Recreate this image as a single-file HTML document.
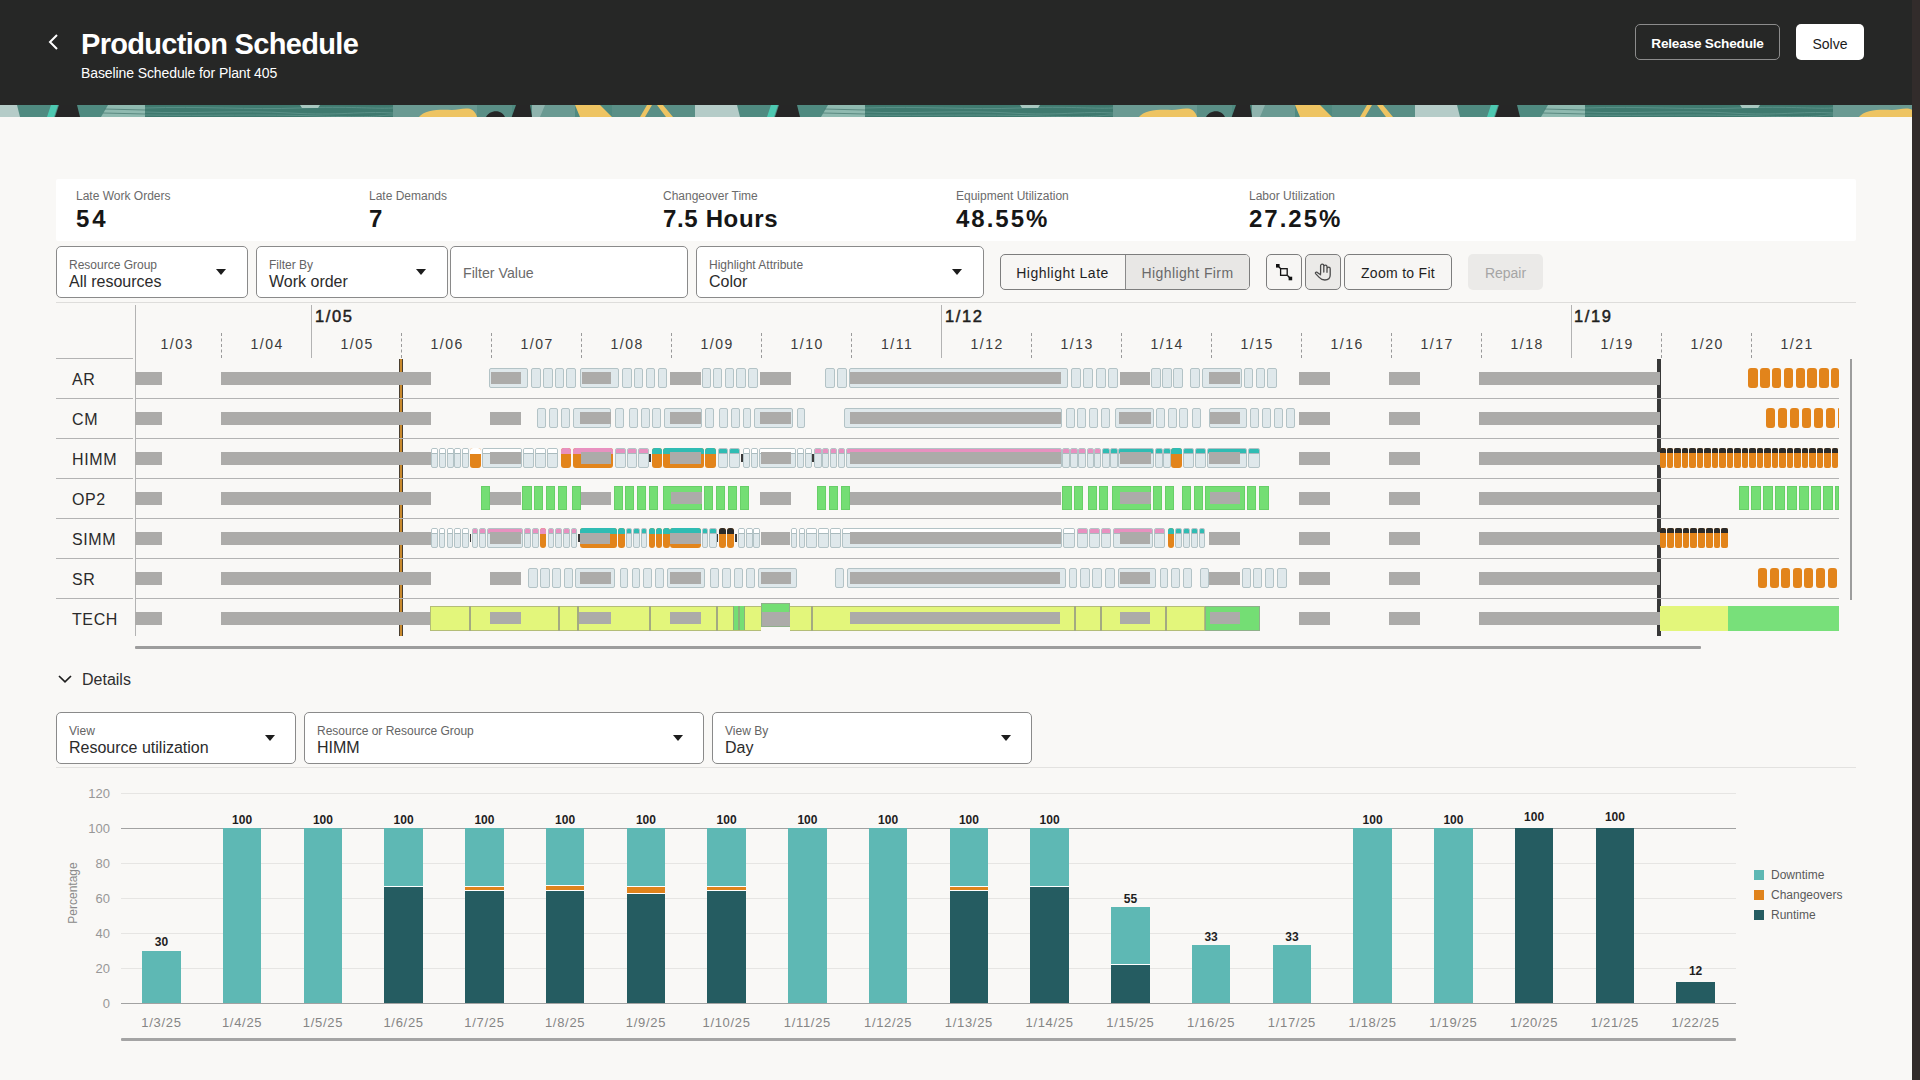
<!DOCTYPE html><html><head><meta charset="utf-8"><title>Production Schedule</title><style>
*{box-sizing:border-box;margin:0;padding:0}
html,body{width:1920px;height:1080px;overflow:hidden;background:#f9f8f6;font-family:"Liberation Sans", sans-serif;}
.a{position:absolute}
.dd{position:absolute;background:#fff;border:1px solid #8a8a8a;border-radius:5px}
.dd .l{position:absolute;left:12px;top:11.5px;font-size:12px;color:#646464;line-height:1;white-space:nowrap}
.dd .v{position:absolute;left:12px;top:26.5px;font-size:16px;color:#2b2b2b;line-height:1;white-space:nowrap}
.dd .ar{position:absolute;top:21.75px;width:0;height:0;border-left:5.5px solid transparent;border-right:5.5px solid transparent;border-top:6px solid #1c1c1c}
.btn{position:absolute;border:1px solid #7d7d7d;border-radius:5px;font-size:14px;color:#1f1f1f;text-align:center;white-space:nowrap}
.kl{position:absolute;font-size:12px;color:#6b6b6b;line-height:1;white-space:nowrap}
.kv{position:absolute;font-size:24px;font-weight:bold;color:#161616;line-height:1;white-space:nowrap}
.rl{position:absolute;left:72px;font-size:16px;color:#2a2a2a;line-height:1}
.dl{position:absolute;font-size:14px;color:#3a3a3a;line-height:1;width:90px;text-align:center}
.wl{position:absolute;font-size:16.5px;font-weight:normal;color:#1e1e1e;line-height:1;-webkit-text-stroke:0.5px #1e1e1e}
</style></head><body>
<div style="position:absolute;left:0.0px;top:0.0px;width:1920.0px;height:105.0px;background:#262726"></div>
<div style="position:absolute;left:1912.0px;top:0.0px;width:8.0px;height:1080.0px;background:#322c2b"></div>
<svg class="a" style="left:0;top:105px" width="1912" height="12" viewBox="0 0 1912 12"><g transform="translate(-720,0)"><rect x="0" y="0" width="720" height="12" fill="#4f8a80"/><path d="M-25 0 L17 0 L20 12 L-25 12 Z" fill="#b5ccc8"/><path d="M695 0 L737 0 L740 12 L695 12 Z" fill="#b5ccc8"/><path d="M51 0 L58 0 L54 12 L47 12 Z" fill="#4dc9b1"/><path d="M59 0 L77 0 L80 12 L55 12 Z" fill="#262626"/><path d="M108 0 L145 0 L145 12 L101 12 Z" fill="#8fbab0"/><path d="M104 4 L145 5 M103 8 L145 9" stroke="#4c7e75" stroke-width="0.8"/><rect x="145" y="0" width="248" height="12" fill="#3f7a6f"/><path d="M145 3 C200 1 250 5 300 3 S 370 4 393 3 M145 7 C190 9 240 5 290 8 S 360 6 393 8 M145 10 C210 11 260 9 320 11 S 380 10 393 10" stroke="#5e938a" stroke-width="0.9" fill="none"/><path d="M300 0 L320 0 L318 3 L302 3 Z" fill="#a8c8c0"/><rect x="393" y="0" width="84" height="12" fill="#6a9a92"/><path d="M419 12 C424 5 440 4 452 5 C458 5 462 3 468 3.5 C473 4 476 8 477 12 Z" fill="#eec462"/><rect x="477" y="0" width="35" height="12" fill="#5a8f86"/><path d="M486 12 C489 6 500 3 505 12 Z" fill="#262626"/><path d="M516 0 L530 0 L532 12 L511.7 12 Z" fill="#262626"/><rect x="532" y="0" width="43" height="12" fill="#6a9a92"/><path d="M532 0 L545 0 L540 12 L532 12 Z" fill="#8fb3ad"/><path d="M575 0 L600 0 L612 12 L580 12 Z" fill="#eec462"/><rect x="612" y="0" width="83" height="12" fill="#5a8f86"/><path d="M640 12 L647 0 L652 0 L645 12 Z M657 0 L663 0 L673 12 L666 12 Z" fill="#eec462"/></g><g transform="translate(0,0)"><rect x="0" y="0" width="720" height="12" fill="#4f8a80"/><path d="M-25 0 L17 0 L20 12 L-25 12 Z" fill="#b5ccc8"/><path d="M695 0 L737 0 L740 12 L695 12 Z" fill="#b5ccc8"/><path d="M51 0 L58 0 L54 12 L47 12 Z" fill="#4dc9b1"/><path d="M59 0 L77 0 L80 12 L55 12 Z" fill="#262626"/><path d="M108 0 L145 0 L145 12 L101 12 Z" fill="#8fbab0"/><path d="M104 4 L145 5 M103 8 L145 9" stroke="#4c7e75" stroke-width="0.8"/><rect x="145" y="0" width="248" height="12" fill="#3f7a6f"/><path d="M145 3 C200 1 250 5 300 3 S 370 4 393 3 M145 7 C190 9 240 5 290 8 S 360 6 393 8 M145 10 C210 11 260 9 320 11 S 380 10 393 10" stroke="#5e938a" stroke-width="0.9" fill="none"/><path d="M300 0 L320 0 L318 3 L302 3 Z" fill="#a8c8c0"/><rect x="393" y="0" width="84" height="12" fill="#6a9a92"/><path d="M419 12 C424 5 440 4 452 5 C458 5 462 3 468 3.5 C473 4 476 8 477 12 Z" fill="#eec462"/><rect x="477" y="0" width="35" height="12" fill="#5a8f86"/><path d="M486 12 C489 6 500 3 505 12 Z" fill="#262626"/><path d="M516 0 L530 0 L532 12 L511.7 12 Z" fill="#262626"/><rect x="532" y="0" width="43" height="12" fill="#6a9a92"/><path d="M532 0 L545 0 L540 12 L532 12 Z" fill="#8fb3ad"/><path d="M575 0 L600 0 L612 12 L580 12 Z" fill="#eec462"/><rect x="612" y="0" width="83" height="12" fill="#5a8f86"/><path d="M640 12 L647 0 L652 0 L645 12 Z M657 0 L663 0 L673 12 L666 12 Z" fill="#eec462"/></g><g transform="translate(720,0)"><rect x="0" y="0" width="720" height="12" fill="#4f8a80"/><path d="M-25 0 L17 0 L20 12 L-25 12 Z" fill="#b5ccc8"/><path d="M695 0 L737 0 L740 12 L695 12 Z" fill="#b5ccc8"/><path d="M51 0 L58 0 L54 12 L47 12 Z" fill="#4dc9b1"/><path d="M59 0 L77 0 L80 12 L55 12 Z" fill="#262626"/><path d="M108 0 L145 0 L145 12 L101 12 Z" fill="#8fbab0"/><path d="M104 4 L145 5 M103 8 L145 9" stroke="#4c7e75" stroke-width="0.8"/><rect x="145" y="0" width="248" height="12" fill="#3f7a6f"/><path d="M145 3 C200 1 250 5 300 3 S 370 4 393 3 M145 7 C190 9 240 5 290 8 S 360 6 393 8 M145 10 C210 11 260 9 320 11 S 380 10 393 10" stroke="#5e938a" stroke-width="0.9" fill="none"/><path d="M300 0 L320 0 L318 3 L302 3 Z" fill="#a8c8c0"/><rect x="393" y="0" width="84" height="12" fill="#6a9a92"/><path d="M419 12 C424 5 440 4 452 5 C458 5 462 3 468 3.5 C473 4 476 8 477 12 Z" fill="#eec462"/><rect x="477" y="0" width="35" height="12" fill="#5a8f86"/><path d="M486 12 C489 6 500 3 505 12 Z" fill="#262626"/><path d="M516 0 L530 0 L532 12 L511.7 12 Z" fill="#262626"/><rect x="532" y="0" width="43" height="12" fill="#6a9a92"/><path d="M532 0 L545 0 L540 12 L532 12 Z" fill="#8fb3ad"/><path d="M575 0 L600 0 L612 12 L580 12 Z" fill="#eec462"/><rect x="612" y="0" width="83" height="12" fill="#5a8f86"/><path d="M640 12 L647 0 L652 0 L645 12 Z M657 0 L663 0 L673 12 L666 12 Z" fill="#eec462"/></g><g transform="translate(1440,0)"><rect x="0" y="0" width="720" height="12" fill="#4f8a80"/><path d="M-25 0 L17 0 L20 12 L-25 12 Z" fill="#b5ccc8"/><path d="M695 0 L737 0 L740 12 L695 12 Z" fill="#b5ccc8"/><path d="M51 0 L58 0 L54 12 L47 12 Z" fill="#4dc9b1"/><path d="M59 0 L77 0 L80 12 L55 12 Z" fill="#262626"/><path d="M108 0 L145 0 L145 12 L101 12 Z" fill="#8fbab0"/><path d="M104 4 L145 5 M103 8 L145 9" stroke="#4c7e75" stroke-width="0.8"/><rect x="145" y="0" width="248" height="12" fill="#3f7a6f"/><path d="M145 3 C200 1 250 5 300 3 S 370 4 393 3 M145 7 C190 9 240 5 290 8 S 360 6 393 8 M145 10 C210 11 260 9 320 11 S 380 10 393 10" stroke="#5e938a" stroke-width="0.9" fill="none"/><path d="M300 0 L320 0 L318 3 L302 3 Z" fill="#a8c8c0"/><rect x="393" y="0" width="84" height="12" fill="#6a9a92"/><path d="M419 12 C424 5 440 4 452 5 C458 5 462 3 468 3.5 C473 4 476 8 477 12 Z" fill="#eec462"/><rect x="477" y="0" width="35" height="12" fill="#5a8f86"/><path d="M486 12 C489 6 500 3 505 12 Z" fill="#262626"/><path d="M516 0 L530 0 L532 12 L511.7 12 Z" fill="#262626"/><rect x="532" y="0" width="43" height="12" fill="#6a9a92"/><path d="M532 0 L545 0 L540 12 L532 12 Z" fill="#8fb3ad"/><path d="M575 0 L600 0 L612 12 L580 12 Z" fill="#eec462"/><rect x="612" y="0" width="83" height="12" fill="#5a8f86"/><path d="M640 12 L647 0 L652 0 L645 12 Z M657 0 L663 0 L673 12 L666 12 Z" fill="#eec462"/></g></svg>
<svg class="a" style="left:44px;top:32px" width="20" height="20" viewBox="0 0 20 20"><path d="M13 3 L6 10 L13 17" stroke="#fff" stroke-width="2" fill="none"/></svg>
<div style="position:absolute;left:81px;top:30px;font-size:29px;color:#ffffff;font-weight:bold;white-space:nowrap;line-height:1;letter-spacing:-0.68px">Production Schedule</div>
<div style="position:absolute;left:81px;top:66px;font-size:14px;color:#ffffff;font-weight:normal;white-space:nowrap;line-height:1;letter-spacing:-0.1px">Baseline Schedule for Plant 405</div>
<div class="a" style="left:1635px;top:24px;width:145px;height:36px;border:1px solid #8c8c8c;border-radius:5px;color:#fff;font-size:13.6px;font-weight:bold;line-height:38px;text-align:center;letter-spacing:-0.2px">Release Schedule</div>
<div class="a" style="left:1796px;top:24px;width:68px;height:36px;background:#fff;border-radius:5px;color:#1a1a1a;font-size:14px;line-height:40px;text-align:center">Solve</div>
<div style="position:absolute;left:56.0px;top:179.0px;width:1800.0px;height:62.0px;background:#ffffff;border-radius:2px"></div>
<div class="kl" style="left:76px;top:190px">Late Work Orders</div>
<div class="kv" style="left:76px;top:207px;letter-spacing:3px">54</div>
<div class="kl" style="left:369px;top:190px">Late Demands</div>
<div class="kv" style="left:369px;top:207px;letter-spacing:0px">7</div>
<div class="kl" style="left:663px;top:190px">Changeover Time</div>
<div class="kv" style="left:663px;top:207px;letter-spacing:0.65px">7.5 Hours</div>
<div class="kl" style="left:956px;top:190px">Equipment Utilization</div>
<div class="kv" style="left:956px;top:207px;letter-spacing:2.0px">48.55%</div>
<div class="kl" style="left:1249px;top:190px">Labor Utilization</div>
<div class="kv" style="left:1249px;top:207px;letter-spacing:2.0px">27.25%</div>
<div class="dd" style="left:56px;top:246px;width:192px;height:52px"><div class="l">Resource Group</div><div class="v">All resources</div><div class="ar" style="left:159.4px"></div></div>
<div class="dd" style="left:256px;top:246px;width:192px;height:52px"><div class="l">Filter By</div><div class="v">Work order</div><div class="ar" style="left:159.4px"></div></div>
<div class="dd" style="left:450px;top:246px;width:238px;height:52px"><div class="a" style="left:12px;top:18.5px;font-size:14.2px;color:#6b6b6b;line-height:1">Filter Value</div></div>
<div class="dd" style="left:696px;top:246px;width:288px;height:52px"><div class="l">Highlight Attribute</div><div class="v">Color</div><div class="ar" style="left:255.4px"></div></div>
<div class="btn" style="left:1000px;top:254px;width:250px;height:36px;background:#f7f6f4"></div>
<div class="a" style="left:1125px;top:255px;width:124px;height:34px;background:#e8e7e5;border-left:1px solid #8a8a8a;border-radius:0 4px 4px 0"></div>
<div class="a" style="left:1000px;top:266px;width:125px;text-align:center;font-size:14px;color:#1f1f1f;line-height:1;letter-spacing:0.5px">Highlight Late</div>
<div class="a" style="left:1125px;top:266px;width:125px;text-align:center;font-size:14px;color:#6a6a6a;line-height:1;letter-spacing:0.4px">Highlight Firm</div>
<div class="btn" style="left:1266px;top:254px;width:36px;height:36px;background:#f7f6f4"></div>
<svg class="a" style="left:1266px;top:254px" width="36" height="36" viewBox="0 0 36 36"><rect x="10" y="10" width="3.6" height="3.6" fill="#111"/><rect x="14.6" y="14.7" width="6.6" height="6.6" fill="none" stroke="#111" stroke-width="1.3"/><rect x="22.6" y="22.7" width="3.6" height="3.6" fill="#111"/><path d="M13 13 L15 15 M21.5 21.5 L23.5 23.5" stroke="#111" stroke-width="1.3"/></svg>
<div class="btn" style="left:1305px;top:254px;width:36px;height:36px;background:#ebeae8"></div>
<svg class="a" style="left:1305px;top:254px" width="36" height="36" viewBox="0 0 36 36"><path d="M15.6 19.5 V11.8 a1.6 1.6 0 0 1 3.2 0 V18 M18.8 12.8 a1.6 1.6 0 0 1 3.2 0 V18.3 M22 14.8 a1.6 1.6 0 0 1 3.2 0 V21 C25.2 24.2 23 26 19.8 26 C17 26 15.6 25 14.2 23.4 L10.6 19.6 C10 18.8 10.8 17.7 11.9 18.2 L15.6 20.8" fill="none" stroke="#4a4a4a" stroke-width="1.3" stroke-linejoin="round" stroke-linecap="round"/></svg>
<div class="btn" style="left:1344px;top:254px;width:108px;height:36px;background:#f7f6f4;line-height:37px;letter-spacing:0.3px">Zoom to Fit</div>
<div class="a" style="left:1468px;top:254px;width:75px;height:36px;background:#ebeae8;border-radius:5px;color:#a5a5a5;font-size:14px;line-height:38px;text-align:center">Repair</div>
<div class="a" style="left:56.0px;top:302.0px;width:1800.0px;height:1.0px;background:#dedddb"></div>
<div class="a" style="left:135.0px;top:305.0px;width:1.0px;height:331.0px;background:#b3b3b3"></div>
<div class="a" style="left:56.0px;top:358.0px;width:77.0px;height:1.0px;background:#b3b3b3"></div>
<div class="a" style="left:399.0px;top:359.0px;width:4.2px;height:277.0px;background:#c98a2e;border-left:1px solid #4a3f30;border-right:1px solid #4a3f30"></div>
<div class="a" style="left:1657.0px;top:359.0px;width:4.0px;height:277.0px;background:#383838"></div>
<div class="a" style="left:56.0px;top:398.0px;width:77.0px;height:1.0px;background:#b3b3b3"></div>
<div class="a" style="left:136.0px;top:398.0px;width:1703.0px;height:1.0px;background:#b3b3b3"></div>
<div class="a" style="left:56.0px;top:438.0px;width:77.0px;height:1.0px;background:#b3b3b3"></div>
<div class="a" style="left:136.0px;top:438.0px;width:1703.0px;height:1.0px;background:#b3b3b3"></div>
<div class="a" style="left:56.0px;top:478.0px;width:77.0px;height:1.0px;background:#b3b3b3"></div>
<div class="a" style="left:136.0px;top:478.0px;width:1703.0px;height:1.0px;background:#b3b3b3"></div>
<div class="a" style="left:56.0px;top:518.0px;width:77.0px;height:1.0px;background:#b3b3b3"></div>
<div class="a" style="left:136.0px;top:518.0px;width:1703.0px;height:1.0px;background:#b3b3b3"></div>
<div class="a" style="left:56.0px;top:558.0px;width:77.0px;height:1.0px;background:#b3b3b3"></div>
<div class="a" style="left:136.0px;top:558.0px;width:1703.0px;height:1.0px;background:#b3b3b3"></div>
<div class="a" style="left:56.0px;top:598.0px;width:77.0px;height:1.0px;background:#b3b3b3"></div>
<div class="a" style="left:136.0px;top:598.0px;width:1703.0px;height:1.0px;background:#b3b3b3"></div>
<div class="rl" style="top:372.3px;letter-spacing:0.6px">AR</div>
<div class="rl" style="top:412.3px;letter-spacing:0.6px">CM</div>
<div class="rl" style="top:452.3px;letter-spacing:0.6px">HIMM</div>
<div class="rl" style="top:492.3px;letter-spacing:0.6px">OP2</div>
<div class="rl" style="top:532.3px;letter-spacing:0.6px">SIMM</div>
<div class="rl" style="top:572.3px;letter-spacing:0.6px">SR</div>
<div class="rl" style="top:612.3px;letter-spacing:0.6px">TECH</div>
<div class="dl" style="left:132.2px;top:336.7px;letter-spacing:1.5px">1/03</div>
<div class="a" style="left:221.0px;top:333px;width:0;height:25px;border-left:1px dashed #9a9a9a"></div>
<div class="dl" style="left:222.2px;top:336.7px;letter-spacing:1.5px">1/04</div>
<div class="a" style="left:311.0px;top:305.0px;width:1.0px;height:53.0px;background:#b3b3b3"></div>
<div class="dl" style="left:312.2px;top:336.7px;letter-spacing:1.5px">1/05</div>
<div class="a" style="left:401.0px;top:333px;width:0;height:25px;border-left:1px dashed #9a9a9a"></div>
<div class="dl" style="left:402.2px;top:336.7px;letter-spacing:1.5px">1/06</div>
<div class="a" style="left:491.0px;top:333px;width:0;height:25px;border-left:1px dashed #9a9a9a"></div>
<div class="dl" style="left:492.2px;top:336.7px;letter-spacing:1.5px">1/07</div>
<div class="a" style="left:581.0px;top:333px;width:0;height:25px;border-left:1px dashed #9a9a9a"></div>
<div class="dl" style="left:582.2px;top:336.7px;letter-spacing:1.5px">1/08</div>
<div class="a" style="left:671.0px;top:333px;width:0;height:25px;border-left:1px dashed #9a9a9a"></div>
<div class="dl" style="left:672.2px;top:336.7px;letter-spacing:1.5px">1/09</div>
<div class="a" style="left:761.0px;top:333px;width:0;height:25px;border-left:1px dashed #9a9a9a"></div>
<div class="dl" style="left:762.2px;top:336.7px;letter-spacing:1.5px">1/10</div>
<div class="a" style="left:851.0px;top:333px;width:0;height:25px;border-left:1px dashed #9a9a9a"></div>
<div class="dl" style="left:852.2px;top:336.7px;letter-spacing:1.5px">1/11</div>
<div class="a" style="left:941.0px;top:305.0px;width:1.0px;height:53.0px;background:#b3b3b3"></div>
<div class="dl" style="left:942.2px;top:336.7px;letter-spacing:1.5px">1/12</div>
<div class="a" style="left:1031.0px;top:333px;width:0;height:25px;border-left:1px dashed #9a9a9a"></div>
<div class="dl" style="left:1032.2px;top:336.7px;letter-spacing:1.5px">1/13</div>
<div class="a" style="left:1121.0px;top:333px;width:0;height:25px;border-left:1px dashed #9a9a9a"></div>
<div class="dl" style="left:1122.2px;top:336.7px;letter-spacing:1.5px">1/14</div>
<div class="a" style="left:1211.0px;top:333px;width:0;height:25px;border-left:1px dashed #9a9a9a"></div>
<div class="dl" style="left:1212.2px;top:336.7px;letter-spacing:1.5px">1/15</div>
<div class="a" style="left:1301.0px;top:333px;width:0;height:25px;border-left:1px dashed #9a9a9a"></div>
<div class="dl" style="left:1302.2px;top:336.7px;letter-spacing:1.5px">1/16</div>
<div class="a" style="left:1391.0px;top:333px;width:0;height:25px;border-left:1px dashed #9a9a9a"></div>
<div class="dl" style="left:1392.2px;top:336.7px;letter-spacing:1.5px">1/17</div>
<div class="a" style="left:1481.0px;top:333px;width:0;height:25px;border-left:1px dashed #9a9a9a"></div>
<div class="dl" style="left:1482.2px;top:336.7px;letter-spacing:1.5px">1/18</div>
<div class="a" style="left:1571.0px;top:305.0px;width:1.0px;height:53.0px;background:#b3b3b3"></div>
<div class="dl" style="left:1572.2px;top:336.7px;letter-spacing:1.5px">1/19</div>
<div class="a" style="left:1661.0px;top:333px;width:0;height:25px;border-left:1px dashed #9a9a9a"></div>
<div class="dl" style="left:1662.2px;top:336.7px;letter-spacing:1.5px">1/20</div>
<div class="a" style="left:1751.0px;top:333px;width:0;height:25px;border-left:1px dashed #9a9a9a"></div>
<div class="dl" style="left:1752.2px;top:336.7px;letter-spacing:1.5px">1/21</div>
<div class="wl" style="left:315px;top:307.8px;letter-spacing:1.6px">1/05</div>
<div class="wl" style="left:945px;top:307.8px;letter-spacing:1.6px">1/12</div>
<div class="wl" style="left:1574px;top:307.8px;letter-spacing:1.6px">1/19</div>
<div class="a" style="left:135.0px;top:371.5px;width:27.0px;height:13.0px;background:#acaba9"></div>
<div class="a" style="left:221.0px;top:371.5px;width:210.0px;height:13.0px;background:#acaba9"></div>
<div class="a" style="left:489.0px;top:367.5px;width:39.0px;height:20.5px;background:#dfe8eb;border:1px solid #b3c3c6;border-radius:2px"></div>
<div class="a" style="left:491.0px;top:372.0px;width:30.0px;height:12.0px;background:#acaba9"></div>
<div class="a" style="left:531.0px;top:367.5px;width:10.0px;height:20.5px;background:#dfe8eb;border:1px solid #b3c3c6;border-radius:2px"></div>
<div class="a" style="left:542.5px;top:367.5px;width:10.0px;height:20.5px;background:#dfe8eb;border:1px solid #b3c3c6;border-radius:2px"></div>
<div class="a" style="left:554.5px;top:367.5px;width:9.5px;height:20.5px;background:#dfe8eb;border:1px solid #b3c3c6;border-radius:2px"></div>
<div class="a" style="left:566.0px;top:367.5px;width:10.0px;height:20.5px;background:#dfe8eb;border:1px solid #b3c3c6;border-radius:2px"></div>
<div class="a" style="left:580.0px;top:367.5px;width:39.0px;height:20.5px;background:#dfe8eb;border:1px solid #b3c3c6;border-radius:2px"></div>
<div class="a" style="left:581.5px;top:372.0px;width:29.5px;height:12.0px;background:#acaba9"></div>
<div class="a" style="left:622.0px;top:367.5px;width:10.0px;height:20.5px;background:#dfe8eb;border:1px solid #b3c3c6;border-radius:2px"></div>
<div class="a" style="left:633.5px;top:367.5px;width:9.5px;height:20.5px;background:#dfe8eb;border:1px solid #b3c3c6;border-radius:2px"></div>
<div class="a" style="left:645.5px;top:367.5px;width:9.5px;height:20.5px;background:#dfe8eb;border:1px solid #b3c3c6;border-radius:2px"></div>
<div class="a" style="left:657.5px;top:367.5px;width:9.5px;height:20.5px;background:#dfe8eb;border:1px solid #b3c3c6;border-radius:2px"></div>
<div class="a" style="left:670.0px;top:371.5px;width:31.0px;height:13.0px;background:#acaba9"></div>
<div class="a" style="left:701.5px;top:367.5px;width:9.5px;height:20.5px;background:#dfe8eb;border:1px solid #b3c3c6;border-radius:2px"></div>
<div class="a" style="left:712.5px;top:367.5px;width:9.5px;height:20.5px;background:#dfe8eb;border:1px solid #b3c3c6;border-radius:2px"></div>
<div class="a" style="left:724.5px;top:367.5px;width:9.5px;height:20.5px;background:#dfe8eb;border:1px solid #b3c3c6;border-radius:2px"></div>
<div class="a" style="left:736.0px;top:367.5px;width:10.0px;height:20.5px;background:#dfe8eb;border:1px solid #b3c3c6;border-radius:2px"></div>
<div class="a" style="left:748.0px;top:367.5px;width:10.0px;height:20.5px;background:#dfe8eb;border:1px solid #b3c3c6;border-radius:2px"></div>
<div class="a" style="left:760.0px;top:371.5px;width:31.0px;height:13.0px;background:#acaba9"></div>
<div class="a" style="left:825.0px;top:367.5px;width:10.0px;height:20.5px;background:#dfe8eb;border:1px solid #b3c3c6;border-radius:2px"></div>
<div class="a" style="left:837.0px;top:367.5px;width:10.0px;height:20.5px;background:#dfe8eb;border:1px solid #b3c3c6;border-radius:2px"></div>
<div class="a" style="left:849.0px;top:367.5px;width:219.0px;height:20.5px;background:#dfe8eb;border:1px solid #b3c3c6;border-radius:2px"></div>
<div class="a" style="left:850.0px;top:372.0px;width:211.0px;height:12.0px;background:#acaba9"></div>
<div class="a" style="left:1071.0px;top:367.5px;width:10.0px;height:20.5px;background:#dfe8eb;border:1px solid #b3c3c6;border-radius:2px"></div>
<div class="a" style="left:1083.0px;top:367.5px;width:10.0px;height:20.5px;background:#dfe8eb;border:1px solid #b3c3c6;border-radius:2px"></div>
<div class="a" style="left:1096.0px;top:367.5px;width:10.0px;height:20.5px;background:#dfe8eb;border:1px solid #b3c3c6;border-radius:2px"></div>
<div class="a" style="left:1108.0px;top:367.5px;width:10.0px;height:20.5px;background:#dfe8eb;border:1px solid #b3c3c6;border-radius:2px"></div>
<div class="a" style="left:1120.0px;top:371.5px;width:30.0px;height:13.0px;background:#acaba9"></div>
<div class="a" style="left:1151.0px;top:367.5px;width:10.0px;height:20.5px;background:#dfe8eb;border:1px solid #b3c3c6;border-radius:2px"></div>
<div class="a" style="left:1162.0px;top:367.5px;width:10.0px;height:20.5px;background:#dfe8eb;border:1px solid #b3c3c6;border-radius:2px"></div>
<div class="a" style="left:1173.0px;top:367.5px;width:10.0px;height:20.5px;background:#dfe8eb;border:1px solid #b3c3c6;border-radius:2px"></div>
<div class="a" style="left:1190.0px;top:367.5px;width:10.0px;height:20.5px;background:#dfe8eb;border:1px solid #b3c3c6;border-radius:2px"></div>
<div class="a" style="left:1202.0px;top:367.5px;width:40.0px;height:20.5px;background:#dfe8eb;border:1px solid #b3c3c6;border-radius:2px"></div>
<div class="a" style="left:1209.0px;top:372.0px;width:31.0px;height:12.0px;background:#acaba9"></div>
<div class="a" style="left:1244.0px;top:367.5px;width:9.0px;height:20.5px;background:#dfe8eb;border:1px solid #b3c3c6;border-radius:2px"></div>
<div class="a" style="left:1256.0px;top:367.5px;width:9.0px;height:20.5px;background:#dfe8eb;border:1px solid #b3c3c6;border-radius:2px"></div>
<div class="a" style="left:1267.0px;top:367.5px;width:10.0px;height:20.5px;background:#dfe8eb;border:1px solid #b3c3c6;border-radius:2px"></div>
<div class="a" style="left:1299.0px;top:371.5px;width:31.0px;height:13.0px;background:#acaba9"></div>
<div class="a" style="left:1389.0px;top:371.5px;width:31.0px;height:13.0px;background:#acaba9"></div>
<div class="a" style="left:1479.0px;top:371.5px;width:181.0px;height:13.0px;background:#acaba9"></div>
<div class="a" style="left:1748.4px;top:367.5px;width:9.4px;height:20.5px;background:#e2841b;border-radius:3px"></div>
<div class="a" style="left:1760.2px;top:367.5px;width:9.4px;height:20.5px;background:#e2841b;border-radius:3px"></div>
<div class="a" style="left:1772.0px;top:367.5px;width:9.4px;height:20.5px;background:#e2841b;border-radius:3px"></div>
<div class="a" style="left:1783.8px;top:367.5px;width:9.4px;height:20.5px;background:#e2841b;border-radius:3px"></div>
<div class="a" style="left:1795.6px;top:367.5px;width:9.4px;height:20.5px;background:#e2841b;border-radius:3px"></div>
<div class="a" style="left:1807.4px;top:367.5px;width:9.4px;height:20.5px;background:#e2841b;border-radius:3px"></div>
<div class="a" style="left:1819.2px;top:367.5px;width:9.4px;height:20.5px;background:#e2841b;border-radius:3px"></div>
<div class="a" style="left:1831.0px;top:367.5px;width:7.5px;height:20.5px;background:#e2841b;border-radius:3px"></div>
<div class="a" style="left:135.0px;top:411.5px;width:27.0px;height:13.0px;background:#acaba9"></div>
<div class="a" style="left:221.0px;top:411.5px;width:210.0px;height:13.0px;background:#acaba9"></div>
<div class="a" style="left:490.0px;top:411.5px;width:31.0px;height:13.0px;background:#acaba9"></div>
<div class="a" style="left:537.0px;top:407.5px;width:9.0px;height:20.5px;background:#dfe8eb;border:1px solid #b3c3c6;border-radius:2px"></div>
<div class="a" style="left:549.0px;top:407.5px;width:9.0px;height:20.5px;background:#dfe8eb;border:1px solid #b3c3c6;border-radius:2px"></div>
<div class="a" style="left:561.0px;top:407.5px;width:9.0px;height:20.5px;background:#dfe8eb;border:1px solid #b3c3c6;border-radius:2px"></div>
<div class="a" style="left:573.0px;top:407.5px;width:38.0px;height:20.5px;background:#dfe8eb;border:1px solid #b3c3c6;border-radius:2px"></div>
<div class="a" style="left:580.0px;top:412.0px;width:31.0px;height:12.0px;background:#acaba9"></div>
<div class="a" style="left:615.0px;top:407.5px;width:9.0px;height:20.5px;background:#dfe8eb;border:1px solid #b3c3c6;border-radius:2px"></div>
<div class="a" style="left:629.0px;top:407.5px;width:9.0px;height:20.5px;background:#dfe8eb;border:1px solid #b3c3c6;border-radius:2px"></div>
<div class="a" style="left:640.5px;top:407.5px;width:9.0px;height:20.5px;background:#dfe8eb;border:1px solid #b3c3c6;border-radius:2px"></div>
<div class="a" style="left:652.0px;top:407.5px;width:9.0px;height:20.5px;background:#dfe8eb;border:1px solid #b3c3c6;border-radius:2px"></div>
<div class="a" style="left:663.5px;top:407.5px;width:38.5px;height:20.5px;background:#dfe8eb;border:1px solid #b3c3c6;border-radius:2px"></div>
<div class="a" style="left:670.0px;top:412.0px;width:31.0px;height:12.0px;background:#acaba9"></div>
<div class="a" style="left:705.0px;top:407.5px;width:9.0px;height:20.5px;background:#dfe8eb;border:1px solid #b3c3c6;border-radius:2px"></div>
<div class="a" style="left:719.0px;top:407.5px;width:9.0px;height:20.5px;background:#dfe8eb;border:1px solid #b3c3c6;border-radius:2px"></div>
<div class="a" style="left:730.5px;top:407.5px;width:9.5px;height:20.5px;background:#dfe8eb;border:1px solid #b3c3c6;border-radius:2px"></div>
<div class="a" style="left:742.5px;top:407.5px;width:8.5px;height:20.5px;background:#dfe8eb;border:1px solid #b3c3c6;border-radius:2px"></div>
<div class="a" style="left:754.0px;top:407.5px;width:39.0px;height:20.5px;background:#dfe8eb;border:1px solid #b3c3c6;border-radius:2px"></div>
<div class="a" style="left:759.5px;top:412.0px;width:31.5px;height:12.0px;background:#acaba9"></div>
<div class="a" style="left:796.5px;top:407.5px;width:8.5px;height:20.5px;background:#dfe8eb;border:1px solid #b3c3c6;border-radius:2px"></div>
<div class="a" style="left:844.0px;top:407.5px;width:218.0px;height:20.5px;background:#dfe8eb;border:1px solid #b3c3c6;border-radius:2px"></div>
<div class="a" style="left:850.0px;top:412.0px;width:211.0px;height:12.0px;background:#acaba9"></div>
<div class="a" style="left:1065.5px;top:407.5px;width:9.0px;height:20.5px;background:#dfe8eb;border:1px solid #b3c3c6;border-radius:2px"></div>
<div class="a" style="left:1077.0px;top:407.5px;width:9.0px;height:20.5px;background:#dfe8eb;border:1px solid #b3c3c6;border-radius:2px"></div>
<div class="a" style="left:1089.0px;top:407.5px;width:9.0px;height:20.5px;background:#dfe8eb;border:1px solid #b3c3c6;border-radius:2px"></div>
<div class="a" style="left:1100.5px;top:407.5px;width:9.5px;height:20.5px;background:#dfe8eb;border:1px solid #b3c3c6;border-radius:2px"></div>
<div class="a" style="left:1114.5px;top:407.5px;width:39.0px;height:20.5px;background:#dfe8eb;border:1px solid #b3c3c6;border-radius:2px"></div>
<div class="a" style="left:1119.0px;top:412.0px;width:32.0px;height:12.0px;background:#acaba9"></div>
<div class="a" style="left:1156.0px;top:407.5px;width:9.0px;height:20.5px;background:#dfe8eb;border:1px solid #b3c3c6;border-radius:2px"></div>
<div class="a" style="left:1167.5px;top:407.5px;width:9.0px;height:20.5px;background:#dfe8eb;border:1px solid #b3c3c6;border-radius:2px"></div>
<div class="a" style="left:1179.0px;top:407.5px;width:9.0px;height:20.5px;background:#dfe8eb;border:1px solid #b3c3c6;border-radius:2px"></div>
<div class="a" style="left:1191.5px;top:407.5px;width:9.0px;height:20.5px;background:#dfe8eb;border:1px solid #b3c3c6;border-radius:2px"></div>
<div class="a" style="left:1209.0px;top:407.5px;width:38.0px;height:20.5px;background:#dfe8eb;border:1px solid #b3c3c6;border-radius:2px"></div>
<div class="a" style="left:1210.0px;top:412.0px;width:30.0px;height:12.0px;background:#acaba9"></div>
<div class="a" style="left:1250.0px;top:407.5px;width:9.0px;height:20.5px;background:#dfe8eb;border:1px solid #b3c3c6;border-radius:2px"></div>
<div class="a" style="left:1262.0px;top:407.5px;width:9.0px;height:20.5px;background:#dfe8eb;border:1px solid #b3c3c6;border-radius:2px"></div>
<div class="a" style="left:1274.0px;top:407.5px;width:9.0px;height:20.5px;background:#dfe8eb;border:1px solid #b3c3c6;border-radius:2px"></div>
<div class="a" style="left:1286.0px;top:407.5px;width:8.5px;height:20.5px;background:#dfe8eb;border:1px solid #b3c3c6;border-radius:2px"></div>
<div class="a" style="left:1299.0px;top:411.5px;width:31.0px;height:13.0px;background:#acaba9"></div>
<div class="a" style="left:1389.0px;top:411.5px;width:31.0px;height:13.0px;background:#acaba9"></div>
<div class="a" style="left:1479.0px;top:411.5px;width:181.0px;height:13.0px;background:#acaba9"></div>
<div class="a" style="left:1766.2px;top:407.5px;width:9.2px;height:20.5px;background:#e2841b;border-radius:3px"></div>
<div class="a" style="left:1778.1px;top:407.5px;width:9.2px;height:20.5px;background:#e2841b;border-radius:3px"></div>
<div class="a" style="left:1790.0px;top:407.5px;width:9.2px;height:20.5px;background:#e2841b;border-radius:3px"></div>
<div class="a" style="left:1801.9px;top:407.5px;width:9.2px;height:20.5px;background:#e2841b;border-radius:3px"></div>
<div class="a" style="left:1813.8px;top:407.5px;width:9.2px;height:20.5px;background:#e2841b;border-radius:3px"></div>
<div class="a" style="left:1825.7px;top:407.5px;width:9.2px;height:20.5px;background:#e2841b;border-radius:3px"></div>
<div class="a" style="left:1837.6px;top:407.5px;width:0.9px;height:20.5px;background:#e2841b;border-radius:3px"></div>
<div class="a" style="left:135.0px;top:451.5px;width:27.0px;height:13.0px;background:#acaba9"></div>
<div class="a" style="left:221.0px;top:451.5px;width:209.5px;height:13.0px;background:#acaba9"></div>
<div class="a" style="left:430.5px;top:447.5px;width:7.5px;height:20.5px;background:#dfe8eb;border:1px solid #b3c3c6;border-radius:2px"></div>
<div class="a" style="left:431.5px;top:448.5px;width:5.5px;height:5.0px;background:#ffffff;border-radius:1px 1px 0 0;border-bottom:1px solid #a9babd"></div>
<div class="a" style="left:438.5px;top:447.5px;width:7.0px;height:20.5px;background:#dfe8eb;border:1px solid #b3c3c6;border-radius:2px"></div>
<div class="a" style="left:439.5px;top:448.5px;width:5.0px;height:5.0px;background:#ffffff;border-radius:1px 1px 0 0;border-bottom:1px solid #a9babd"></div>
<div class="a" style="left:446.5px;top:447.5px;width:7.0px;height:20.5px;background:#dfe8eb;border:1px solid #b3c3c6;border-radius:2px"></div>
<div class="a" style="left:447.5px;top:448.5px;width:5.0px;height:5.0px;background:#ffffff;border-radius:1px 1px 0 0;border-bottom:1px solid #a9babd"></div>
<div class="a" style="left:454.3px;top:447.5px;width:7.2px;height:20.5px;background:#dfe8eb;border:1px solid #b3c3c6;border-radius:2px"></div>
<div class="a" style="left:455.3px;top:448.5px;width:5.2px;height:5.0px;background:#ffffff;border-radius:1px 1px 0 0;border-bottom:1px solid #a9babd"></div>
<div class="a" style="left:462.0px;top:447.5px;width:7.0px;height:20.5px;background:#dfe8eb;border:1px solid #b3c3c6;border-radius:2px"></div>
<div class="a" style="left:463.0px;top:448.5px;width:5.0px;height:5.0px;background:#ffffff;border-radius:1px 1px 0 0;border-bottom:1px solid #a9babd"></div>
<div class="a" style="left:470.0px;top:447.5px;width:11.0px;height:20.5px;background:#e2841b;border-radius:3px"></div>
<div class="a" style="left:470.0px;top:447.5px;width:11.0px;height:6.0px;background:#ffffff;border-radius:3px 3px 0 0"></div>
<div class="a" style="left:481.5px;top:447.5px;width:40.5px;height:20.5px;background:#dfe8eb;border:1px solid #b3c3c6;border-radius:2px"></div>
<div class="a" style="left:482.5px;top:448.5px;width:38.5px;height:5.0px;background:#ffffff;border-radius:1px 1px 0 0;border-bottom:1px solid #a9babd"></div>
<div class="a" style="left:490.0px;top:452.0px;width:31.0px;height:12.0px;background:#acaba9"></div>
<div class="a" style="left:523.0px;top:447.5px;width:11.0px;height:20.5px;background:#dfe8eb;border:1px solid #b3c3c6;border-radius:2px"></div>
<div class="a" style="left:524.0px;top:448.5px;width:9.0px;height:5.0px;background:#ffffff;border-radius:1px 1px 0 0;border-bottom:1px solid #a9babd"></div>
<div class="a" style="left:535.0px;top:447.5px;width:11.0px;height:20.5px;background:#dfe8eb;border:1px solid #b3c3c6;border-radius:2px"></div>
<div class="a" style="left:536.0px;top:448.5px;width:9.0px;height:5.0px;background:#ffffff;border-radius:1px 1px 0 0;border-bottom:1px solid #a9babd"></div>
<div class="a" style="left:547.0px;top:447.5px;width:10.5px;height:20.5px;background:#dfe8eb;border:1px solid #b3c3c6;border-radius:2px"></div>
<div class="a" style="left:548.0px;top:448.5px;width:8.5px;height:5.0px;background:#ffffff;border-radius:1px 1px 0 0;border-bottom:1px solid #a9babd"></div>
<div class="a" style="left:560.5px;top:447.5px;width:10.5px;height:20.5px;background:#e2841b;border-radius:3px"></div>
<div class="a" style="left:560.5px;top:447.5px;width:10.5px;height:6.0px;background:#e891c0;border-radius:3px 3px 0 0"></div>
<div class="a" style="left:572.5px;top:447.5px;width:40.5px;height:20.5px;background:#e2841b;border-radius:3px"></div>
<div class="a" style="left:572.5px;top:447.5px;width:40.5px;height:6.0px;background:#e891c0;border-radius:3px 3px 0 0"></div>
<div class="a" style="left:580.5px;top:452.0px;width:30.0px;height:12.0px;background:#acaba9"></div>
<div class="a" style="left:615.0px;top:447.5px;width:10.5px;height:20.5px;background:#dfe8eb;border:1px solid #b3c3c6;border-radius:2px"></div>
<div class="a" style="left:616.0px;top:448.5px;width:8.5px;height:5.0px;background:#e891c0;border-radius:1px 1px 0 0;border-bottom:1px solid #a9babd"></div>
<div class="a" style="left:626.5px;top:447.5px;width:10.0px;height:20.5px;background:#dfe8eb;border:1px solid #b3c3c6;border-radius:2px"></div>
<div class="a" style="left:627.5px;top:448.5px;width:8.0px;height:5.0px;background:#e891c0;border-radius:1px 1px 0 0;border-bottom:1px solid #a9babd"></div>
<div class="a" style="left:638.0px;top:447.5px;width:10.5px;height:20.5px;background:#dfe8eb;border:1px solid #b3c3c6;border-radius:2px"></div>
<div class="a" style="left:639.0px;top:448.5px;width:8.5px;height:5.0px;background:#e891c0;border-radius:1px 1px 0 0;border-bottom:1px solid #a9babd"></div>
<div class="a" style="left:649.0px;top:454.0px;width:2.0px;height:8.0px;background:#3a3a3a"></div>
<div class="a" style="left:651.5px;top:447.5px;width:10.5px;height:20.5px;background:#e2841b;border-radius:3px"></div>
<div class="a" style="left:651.5px;top:447.5px;width:10.5px;height:6.0px;background:#2fbcb3;border-radius:3px 3px 0 0"></div>
<div class="a" style="left:663.0px;top:447.5px;width:41.0px;height:20.5px;background:#e2841b;border-radius:3px"></div>
<div class="a" style="left:663.0px;top:447.5px;width:41.0px;height:6.0px;background:#2fbcb3;border-radius:3px 3px 0 0"></div>
<div class="a" style="left:670.0px;top:452.0px;width:31.0px;height:12.0px;background:#acaba9"></div>
<div class="a" style="left:705.0px;top:447.5px;width:11.0px;height:20.5px;background:#e2841b;border-radius:3px"></div>
<div class="a" style="left:705.0px;top:447.5px;width:11.0px;height:6.0px;background:#2fbcb3;border-radius:3px 3px 0 0"></div>
<div class="a" style="left:717.5px;top:447.5px;width:10.5px;height:20.5px;background:#dfe8eb;border:1px solid #b3c3c6;border-radius:2px"></div>
<div class="a" style="left:718.5px;top:448.5px;width:8.5px;height:5.0px;background:#2fbcb3;border-radius:1px 1px 0 0;border-bottom:1px solid #a9babd"></div>
<div class="a" style="left:728.8px;top:447.5px;width:11.2px;height:20.5px;background:#dfe8eb;border:1px solid #b3c3c6;border-radius:2px"></div>
<div class="a" style="left:729.8px;top:448.5px;width:9.2px;height:5.0px;background:#2fbcb3;border-radius:1px 1px 0 0;border-bottom:1px solid #a9babd"></div>
<div class="a" style="left:740.5px;top:454.0px;width:2.5px;height:8.0px;background:#3a3a3a"></div>
<div class="a" style="left:743.3px;top:447.5px;width:7.2px;height:20.5px;background:#dfe8eb;border:1px solid #b3c3c6;border-radius:2px"></div>
<div class="a" style="left:744.3px;top:448.5px;width:5.2px;height:5.0px;background:#ffffff;border-radius:1px 1px 0 0;border-bottom:1px solid #a9babd"></div>
<div class="a" style="left:751.2px;top:447.5px;width:6.8px;height:20.5px;background:#dfe8eb;border:1px solid #b3c3c6;border-radius:2px"></div>
<div class="a" style="left:752.2px;top:448.5px;width:4.8px;height:5.0px;background:#ffffff;border-radius:1px 1px 0 0;border-bottom:1px solid #a9babd"></div>
<div class="a" style="left:759.0px;top:447.5px;width:37.0px;height:20.5px;background:#dfe8eb;border:1px solid #b3c3c6;border-radius:2px"></div>
<div class="a" style="left:760.0px;top:448.5px;width:35.0px;height:5.0px;background:#ffffff;border-radius:1px 1px 0 0;border-bottom:1px solid #a9babd"></div>
<div class="a" style="left:760.5px;top:452.0px;width:30.5px;height:12.0px;background:#acaba9"></div>
<div class="a" style="left:797.0px;top:447.5px;width:7.4px;height:20.5px;background:#dfe8eb;border:1px solid #b3c3c6;border-radius:2px"></div>
<div class="a" style="left:798.0px;top:448.5px;width:5.4px;height:5.0px;background:#ffffff;border-radius:1px 1px 0 0;border-bottom:1px solid #a9babd"></div>
<div class="a" style="left:805.0px;top:447.5px;width:6.6px;height:20.5px;background:#dfe8eb;border:1px solid #b3c3c6;border-radius:2px"></div>
<div class="a" style="left:806.0px;top:448.5px;width:4.6px;height:5.0px;background:#ffffff;border-radius:1px 1px 0 0;border-bottom:1px solid #a9babd"></div>
<div class="a" style="left:812.0px;top:454.0px;width:1.5px;height:8.0px;background:#3a3a3a"></div>
<div class="a" style="left:814.0px;top:447.5px;width:7.5px;height:20.5px;background:#dfe8eb;border:1px solid #b3c3c6;border-radius:2px"></div>
<div class="a" style="left:815.0px;top:448.5px;width:5.5px;height:5.0px;background:#e891c0;border-radius:1px 1px 0 0;border-bottom:1px solid #a9babd"></div>
<div class="a" style="left:822.0px;top:447.5px;width:7.2px;height:20.5px;background:#dfe8eb;border:1px solid #b3c3c6;border-radius:2px"></div>
<div class="a" style="left:823.0px;top:448.5px;width:5.2px;height:5.0px;background:#e891c0;border-radius:1px 1px 0 0;border-bottom:1px solid #a9babd"></div>
<div class="a" style="left:830.0px;top:447.5px;width:7.0px;height:20.5px;background:#dfe8eb;border:1px solid #b3c3c6;border-radius:2px"></div>
<div class="a" style="left:831.0px;top:448.5px;width:5.0px;height:5.0px;background:#e891c0;border-radius:1px 1px 0 0;border-bottom:1px solid #a9babd"></div>
<div class="a" style="left:837.5px;top:447.5px;width:7.0px;height:20.5px;background:#dfe8eb;border:1px solid #b3c3c6;border-radius:2px"></div>
<div class="a" style="left:838.5px;top:448.5px;width:5.0px;height:5.0px;background:#e891c0;border-radius:1px 1px 0 0;border-bottom:1px solid #a9babd"></div>
<div class="a" style="left:846.0px;top:447.5px;width:215.5px;height:20.5px;background:#dfe8eb;border:1px solid #b3c3c6;border-radius:2px"></div>
<div class="a" style="left:847.0px;top:448.5px;width:213.5px;height:5.0px;background:#e891c0;border-radius:1px 1px 0 0;border-bottom:1px solid #a9babd"></div>
<div class="a" style="left:850.0px;top:452.0px;width:211.0px;height:12.0px;background:#acaba9"></div>
<div class="a" style="left:1062.0px;top:447.5px;width:7.5px;height:20.5px;background:#dfe8eb;border:1px solid #b3c3c6;border-radius:2px"></div>
<div class="a" style="left:1063.0px;top:448.5px;width:5.5px;height:5.0px;background:#e891c0;border-radius:1px 1px 0 0;border-bottom:1px solid #a9babd"></div>
<div class="a" style="left:1070.0px;top:447.5px;width:7.5px;height:20.5px;background:#dfe8eb;border:1px solid #b3c3c6;border-radius:2px"></div>
<div class="a" style="left:1071.0px;top:448.5px;width:5.5px;height:5.0px;background:#e891c0;border-radius:1px 1px 0 0;border-bottom:1px solid #a9babd"></div>
<div class="a" style="left:1078.0px;top:447.5px;width:7.5px;height:20.5px;background:#dfe8eb;border:1px solid #b3c3c6;border-radius:2px"></div>
<div class="a" style="left:1079.0px;top:448.5px;width:5.5px;height:5.0px;background:#e891c0;border-radius:1px 1px 0 0;border-bottom:1px solid #a9babd"></div>
<div class="a" style="left:1086.5px;top:447.5px;width:7.0px;height:20.5px;background:#dfe8eb;border:1px solid #b3c3c6;border-radius:2px"></div>
<div class="a" style="left:1087.5px;top:448.5px;width:5.0px;height:5.0px;background:#e891c0;border-radius:1px 1px 0 0;border-bottom:1px solid #a9babd"></div>
<div class="a" style="left:1094.0px;top:447.5px;width:6.5px;height:20.5px;background:#dfe8eb;border:1px solid #b3c3c6;border-radius:2px"></div>
<div class="a" style="left:1095.0px;top:448.5px;width:4.5px;height:5.0px;background:#e891c0;border-radius:1px 1px 0 0;border-bottom:1px solid #a9babd"></div>
<div class="a" style="left:1102.0px;top:447.5px;width:7.5px;height:20.5px;background:#dfe8eb;border:1px solid #b3c3c6;border-radius:2px"></div>
<div class="a" style="left:1103.0px;top:448.5px;width:5.5px;height:5.0px;background:#2fbcb3;border-radius:1px 1px 0 0;border-bottom:1px solid #a9babd"></div>
<div class="a" style="left:1110.0px;top:447.5px;width:7.5px;height:20.5px;background:#dfe8eb;border:1px solid #b3c3c6;border-radius:2px"></div>
<div class="a" style="left:1111.0px;top:448.5px;width:5.5px;height:5.0px;background:#2fbcb3;border-radius:1px 1px 0 0;border-bottom:1px solid #a9babd"></div>
<div class="a" style="left:1118.0px;top:447.5px;width:36.0px;height:20.5px;background:#dfe8eb;border:1px solid #b3c3c6;border-radius:2px"></div>
<div class="a" style="left:1119.0px;top:448.5px;width:34.0px;height:5.0px;background:#2fbcb3;border-radius:1px 1px 0 0;border-bottom:1px solid #a9babd"></div>
<div class="a" style="left:1120.0px;top:452.0px;width:31.0px;height:12.0px;background:#acaba9"></div>
<div class="a" style="left:1155.0px;top:447.5px;width:7.5px;height:20.5px;background:#dfe8eb;border:1px solid #b3c3c6;border-radius:2px"></div>
<div class="a" style="left:1156.0px;top:448.5px;width:5.5px;height:5.0px;background:#2fbcb3;border-radius:1px 1px 0 0;border-bottom:1px solid #a9babd"></div>
<div class="a" style="left:1163.0px;top:447.5px;width:7.5px;height:20.5px;background:#dfe8eb;border:1px solid #b3c3c6;border-radius:2px"></div>
<div class="a" style="left:1164.0px;top:448.5px;width:5.5px;height:5.0px;background:#2fbcb3;border-radius:1px 1px 0 0;border-bottom:1px solid #a9babd"></div>
<div class="a" style="left:1171.0px;top:447.5px;width:11.0px;height:20.5px;background:#e2841b;border-radius:3px"></div>
<div class="a" style="left:1171.0px;top:447.5px;width:11.0px;height:6.0px;background:#2fbcb3;border-radius:3px 3px 0 0"></div>
<div class="a" style="left:1183.0px;top:447.5px;width:10.5px;height:20.5px;background:#dfe8eb;border:1px solid #b3c3c6;border-radius:2px"></div>
<div class="a" style="left:1184.0px;top:448.5px;width:8.5px;height:5.0px;background:#2fbcb3;border-radius:1px 1px 0 0;border-bottom:1px solid #a9babd"></div>
<div class="a" style="left:1194.5px;top:447.5px;width:11.0px;height:20.5px;background:#dfe8eb;border:1px solid #b3c3c6;border-radius:2px"></div>
<div class="a" style="left:1195.5px;top:448.5px;width:9.0px;height:5.0px;background:#2fbcb3;border-radius:1px 1px 0 0;border-bottom:1px solid #a9babd"></div>
<div class="a" style="left:1206.5px;top:447.5px;width:40.0px;height:20.5px;background:#dfe8eb;border:1px solid #b3c3c6;border-radius:2px"></div>
<div class="a" style="left:1207.5px;top:448.5px;width:38.0px;height:5.0px;background:#2fbcb3;border-radius:1px 1px 0 0;border-bottom:1px solid #a9babd"></div>
<div class="a" style="left:1209.0px;top:452.0px;width:31.0px;height:12.0px;background:#acaba9"></div>
<div class="a" style="left:1247.5px;top:447.5px;width:12.0px;height:20.5px;background:#dfe8eb;border:1px solid #b3c3c6;border-radius:2px"></div>
<div class="a" style="left:1248.5px;top:448.5px;width:10.0px;height:5.0px;background:#2fbcb3;border-radius:1px 1px 0 0;border-bottom:1px solid #a9babd"></div>
<div class="a" style="left:1299.0px;top:451.5px;width:31.0px;height:13.0px;background:#acaba9"></div>
<div class="a" style="left:1389.0px;top:451.5px;width:31.0px;height:13.0px;background:#acaba9"></div>
<div class="a" style="left:1479.0px;top:451.5px;width:181.0px;height:13.0px;background:#acaba9"></div>
<div class="a" style="left:1660.0px;top:447.5px;width:6.0px;height:20.5px;background:#e2841b;border-radius:2px"></div>
<div class="a" style="left:1660.0px;top:447.5px;width:6.0px;height:5.0px;background:#2a2a2a;border-radius:2px 2px 0 0"></div>
<div class="a" style="left:1667.0px;top:447.5px;width:6.0px;height:20.5px;background:#e2841b;border-radius:2px"></div>
<div class="a" style="left:1667.0px;top:447.5px;width:6.0px;height:5.0px;background:#2a2a2a;border-radius:2px 2px 0 0"></div>
<div class="a" style="left:1674.0px;top:447.5px;width:7.0px;height:20.5px;background:#e2841b;border-radius:2px"></div>
<div class="a" style="left:1674.0px;top:447.5px;width:7.0px;height:5.0px;background:#2a2a2a;border-radius:2px 2px 0 0"></div>
<div class="a" style="left:1682.0px;top:447.5px;width:6.0px;height:20.5px;background:#e2841b;border-radius:2px"></div>
<div class="a" style="left:1682.0px;top:447.5px;width:6.0px;height:5.0px;background:#2a2a2a;border-radius:2px 2px 0 0"></div>
<div class="a" style="left:1689.0px;top:447.5px;width:7.0px;height:20.5px;background:#e2841b;border-radius:2px"></div>
<div class="a" style="left:1689.0px;top:447.5px;width:7.0px;height:5.0px;background:#2a2a2a;border-radius:2px 2px 0 0"></div>
<div class="a" style="left:1697.0px;top:447.5px;width:6.0px;height:20.5px;background:#e2841b;border-radius:2px"></div>
<div class="a" style="left:1697.0px;top:447.5px;width:6.0px;height:5.0px;background:#2a2a2a;border-radius:2px 2px 0 0"></div>
<div class="a" style="left:1704.0px;top:447.5px;width:7.0px;height:20.5px;background:#e2841b;border-radius:2px"></div>
<div class="a" style="left:1704.0px;top:447.5px;width:7.0px;height:5.0px;background:#2a2a2a;border-radius:2px 2px 0 0"></div>
<div class="a" style="left:1712.0px;top:447.5px;width:6.0px;height:20.5px;background:#e2841b;border-radius:2px"></div>
<div class="a" style="left:1712.0px;top:447.5px;width:6.0px;height:5.0px;background:#2a2a2a;border-radius:2px 2px 0 0"></div>
<div class="a" style="left:1719.0px;top:447.5px;width:7.0px;height:20.5px;background:#e2841b;border-radius:2px"></div>
<div class="a" style="left:1719.0px;top:447.5px;width:7.0px;height:5.0px;background:#2a2a2a;border-radius:2px 2px 0 0"></div>
<div class="a" style="left:1727.0px;top:447.5px;width:6.0px;height:20.5px;background:#e2841b;border-radius:2px"></div>
<div class="a" style="left:1727.0px;top:447.5px;width:6.0px;height:5.0px;background:#2a2a2a;border-radius:2px 2px 0 0"></div>
<div class="a" style="left:1734.0px;top:447.5px;width:7.0px;height:20.5px;background:#e2841b;border-radius:2px"></div>
<div class="a" style="left:1734.0px;top:447.5px;width:7.0px;height:5.0px;background:#2a2a2a;border-radius:2px 2px 0 0"></div>
<div class="a" style="left:1742.0px;top:447.5px;width:6.0px;height:20.5px;background:#e2841b;border-radius:2px"></div>
<div class="a" style="left:1742.0px;top:447.5px;width:6.0px;height:5.0px;background:#2a2a2a;border-radius:2px 2px 0 0"></div>
<div class="a" style="left:1749.0px;top:447.5px;width:7.0px;height:20.5px;background:#e2841b;border-radius:2px"></div>
<div class="a" style="left:1749.0px;top:447.5px;width:7.0px;height:5.0px;background:#2a2a2a;border-radius:2px 2px 0 0"></div>
<div class="a" style="left:1757.0px;top:447.5px;width:6.0px;height:20.5px;background:#e2841b;border-radius:2px"></div>
<div class="a" style="left:1757.0px;top:447.5px;width:6.0px;height:5.0px;background:#2a2a2a;border-radius:2px 2px 0 0"></div>
<div class="a" style="left:1764.0px;top:447.5px;width:7.0px;height:20.5px;background:#e2841b;border-radius:2px"></div>
<div class="a" style="left:1764.0px;top:447.5px;width:7.0px;height:5.0px;background:#2a2a2a;border-radius:2px 2px 0 0"></div>
<div class="a" style="left:1772.0px;top:447.5px;width:6.0px;height:20.5px;background:#e2841b;border-radius:2px"></div>
<div class="a" style="left:1772.0px;top:447.5px;width:6.0px;height:5.0px;background:#2a2a2a;border-radius:2px 2px 0 0"></div>
<div class="a" style="left:1779.0px;top:447.5px;width:7.0px;height:20.5px;background:#e2841b;border-radius:2px"></div>
<div class="a" style="left:1779.0px;top:447.5px;width:7.0px;height:5.0px;background:#2a2a2a;border-radius:2px 2px 0 0"></div>
<div class="a" style="left:1787.0px;top:447.5px;width:6.0px;height:20.5px;background:#e2841b;border-radius:2px"></div>
<div class="a" style="left:1787.0px;top:447.5px;width:6.0px;height:5.0px;background:#2a2a2a;border-radius:2px 2px 0 0"></div>
<div class="a" style="left:1794.0px;top:447.5px;width:7.0px;height:20.5px;background:#e2841b;border-radius:2px"></div>
<div class="a" style="left:1794.0px;top:447.5px;width:7.0px;height:5.0px;background:#2a2a2a;border-radius:2px 2px 0 0"></div>
<div class="a" style="left:1802.0px;top:447.5px;width:6.0px;height:20.5px;background:#e2841b;border-radius:2px"></div>
<div class="a" style="left:1802.0px;top:447.5px;width:6.0px;height:5.0px;background:#2a2a2a;border-radius:2px 2px 0 0"></div>
<div class="a" style="left:1809.0px;top:447.5px;width:7.0px;height:20.5px;background:#e2841b;border-radius:2px"></div>
<div class="a" style="left:1809.0px;top:447.5px;width:7.0px;height:5.0px;background:#2a2a2a;border-radius:2px 2px 0 0"></div>
<div class="a" style="left:1817.0px;top:447.5px;width:6.0px;height:20.5px;background:#e2841b;border-radius:2px"></div>
<div class="a" style="left:1817.0px;top:447.5px;width:6.0px;height:5.0px;background:#2a2a2a;border-radius:2px 2px 0 0"></div>
<div class="a" style="left:1824.0px;top:447.5px;width:7.0px;height:20.5px;background:#e2841b;border-radius:2px"></div>
<div class="a" style="left:1824.0px;top:447.5px;width:7.0px;height:5.0px;background:#2a2a2a;border-radius:2px 2px 0 0"></div>
<div class="a" style="left:1832.0px;top:447.5px;width:6.0px;height:20.5px;background:#e2841b;border-radius:2px"></div>
<div class="a" style="left:1832.0px;top:447.5px;width:6.0px;height:5.0px;background:#2a2a2a;border-radius:2px 2px 0 0"></div>
<div class="a" style="left:135.0px;top:491.5px;width:27.0px;height:13.0px;background:#acaba9"></div>
<div class="a" style="left:221.0px;top:491.5px;width:210.0px;height:13.0px;background:#acaba9"></div>
<div class="a" style="left:480.5px;top:486.0px;width:9.0px;height:24.0px;background:#74de74;border:1px solid #68cf68"></div>
<div class="a" style="left:490.0px;top:491.5px;width:31.0px;height:13.0px;background:#acaba9"></div>
<div class="a" style="left:522.0px;top:486.0px;width:9.5px;height:24.0px;background:#74de74;border:1px solid #68cf68"></div>
<div class="a" style="left:534.0px;top:486.0px;width:9.0px;height:24.0px;background:#74de74;border:1px solid #68cf68"></div>
<div class="a" style="left:546.0px;top:486.0px;width:9.0px;height:24.0px;background:#74de74;border:1px solid #68cf68"></div>
<div class="a" style="left:558.0px;top:486.0px;width:9.0px;height:24.0px;background:#74de74;border:1px solid #68cf68"></div>
<div class="a" style="left:571.5px;top:486.0px;width:9.0px;height:24.0px;background:#74de74;border:1px solid #68cf68"></div>
<div class="a" style="left:581.0px;top:491.5px;width:30.0px;height:13.0px;background:#acaba9"></div>
<div class="a" style="left:613.5px;top:486.0px;width:9.0px;height:24.0px;background:#74de74;border:1px solid #68cf68"></div>
<div class="a" style="left:625.0px;top:486.0px;width:9.0px;height:24.0px;background:#74de74;border:1px solid #68cf68"></div>
<div class="a" style="left:637.0px;top:486.0px;width:9.0px;height:24.0px;background:#74de74;border:1px solid #68cf68"></div>
<div class="a" style="left:649.0px;top:486.0px;width:9.0px;height:24.0px;background:#74de74;border:1px solid #68cf68"></div>
<div class="a" style="left:662.5px;top:486.0px;width:39.0px;height:24.0px;background:#74de74;border:1px solid #68cf68"></div>
<div class="a" style="left:671.0px;top:492.0px;width:30.5px;height:12.0px;background:#acaba9"></div>
<div class="a" style="left:703.5px;top:486.0px;width:9.2px;height:24.0px;background:#74de74;border:1px solid #68cf68"></div>
<div class="a" style="left:715.8px;top:486.0px;width:8.8px;height:24.0px;background:#74de74;border:1px solid #68cf68"></div>
<div class="a" style="left:727.7px;top:486.0px;width:9.0px;height:24.0px;background:#74de74;border:1px solid #68cf68"></div>
<div class="a" style="left:739.8px;top:486.0px;width:9.0px;height:24.0px;background:#74de74;border:1px solid #68cf68"></div>
<div class="a" style="left:760.0px;top:491.5px;width:31.0px;height:13.0px;background:#acaba9"></div>
<div class="a" style="left:817.0px;top:486.0px;width:9.3px;height:24.0px;background:#74de74;border:1px solid #68cf68"></div>
<div class="a" style="left:829.2px;top:486.0px;width:8.8px;height:24.0px;background:#74de74;border:1px solid #68cf68"></div>
<div class="a" style="left:841.2px;top:486.0px;width:8.8px;height:24.0px;background:#74de74;border:1px solid #68cf68"></div>
<div class="a" style="left:850.0px;top:491.5px;width:211.0px;height:13.0px;background:#acaba9"></div>
<div class="a" style="left:1062.0px;top:486.0px;width:9.5px;height:24.0px;background:#74de74;border:1px solid #68cf68"></div>
<div class="a" style="left:1074.0px;top:486.0px;width:9.0px;height:24.0px;background:#74de74;border:1px solid #68cf68"></div>
<div class="a" style="left:1087.5px;top:486.0px;width:9.5px;height:24.0px;background:#74de74;border:1px solid #68cf68"></div>
<div class="a" style="left:1099.0px;top:486.0px;width:9.0px;height:24.0px;background:#74de74;border:1px solid #68cf68"></div>
<div class="a" style="left:1111.5px;top:486.0px;width:39.0px;height:24.0px;background:#74de74;border:1px solid #68cf68"></div>
<div class="a" style="left:1120.0px;top:492.0px;width:30.5px;height:12.0px;background:#acaba9"></div>
<div class="a" style="left:1153.0px;top:486.0px;width:9.0px;height:24.0px;background:#74de74;border:1px solid #68cf68"></div>
<div class="a" style="left:1165.0px;top:486.0px;width:9.0px;height:24.0px;background:#74de74;border:1px solid #68cf68"></div>
<div class="a" style="left:1182.0px;top:486.0px;width:9.0px;height:24.0px;background:#74de74;border:1px solid #68cf68"></div>
<div class="a" style="left:1194.0px;top:486.0px;width:9.0px;height:24.0px;background:#74de74;border:1px solid #68cf68"></div>
<div class="a" style="left:1205.4px;top:486.0px;width:39.2px;height:24.0px;background:#74de74;border:1px solid #68cf68"></div>
<div class="a" style="left:1210.0px;top:492.0px;width:30.0px;height:12.0px;background:#acaba9"></div>
<div class="a" style="left:1247.0px;top:486.0px;width:9.0px;height:24.0px;background:#74de74;border:1px solid #68cf68"></div>
<div class="a" style="left:1259.0px;top:486.0px;width:9.5px;height:24.0px;background:#74de74;border:1px solid #68cf68"></div>
<div class="a" style="left:1299.0px;top:491.5px;width:31.0px;height:13.0px;background:#acaba9"></div>
<div class="a" style="left:1389.0px;top:491.5px;width:31.0px;height:13.0px;background:#acaba9"></div>
<div class="a" style="left:1479.0px;top:491.5px;width:181.0px;height:13.0px;background:#acaba9"></div>
<div class="a" style="left:1739.4px;top:486.0px;width:10.0px;height:24.0px;background:#74de74;border:1px solid #68cf68"></div>
<div class="a" style="left:1751.4px;top:486.0px;width:10.0px;height:24.0px;background:#74de74;border:1px solid #68cf68"></div>
<div class="a" style="left:1763.3px;top:486.0px;width:10.0px;height:24.0px;background:#74de74;border:1px solid #68cf68"></div>
<div class="a" style="left:1775.2px;top:486.0px;width:10.0px;height:24.0px;background:#74de74;border:1px solid #68cf68"></div>
<div class="a" style="left:1787.2px;top:486.0px;width:10.0px;height:24.0px;background:#74de74;border:1px solid #68cf68"></div>
<div class="a" style="left:1799.2px;top:486.0px;width:10.0px;height:24.0px;background:#74de74;border:1px solid #68cf68"></div>
<div class="a" style="left:1811.1px;top:486.0px;width:10.0px;height:24.0px;background:#74de74;border:1px solid #68cf68"></div>
<div class="a" style="left:1823.1px;top:486.0px;width:10.0px;height:24.0px;background:#74de74;border:1px solid #68cf68"></div>
<div class="a" style="left:1835.0px;top:486.0px;width:3.5px;height:24.0px;background:#74de74;border:1px solid #68cf68"></div>
<div class="a" style="left:135.0px;top:531.5px;width:27.0px;height:13.0px;background:#acaba9"></div>
<div class="a" style="left:221.0px;top:531.5px;width:209.5px;height:13.0px;background:#acaba9"></div>
<div class="a" style="left:430.8px;top:527.5px;width:7.2px;height:20.5px;background:#dfe8eb;border:1px solid #b3c3c6;border-radius:2px"></div>
<div class="a" style="left:431.8px;top:528.5px;width:5.2px;height:5.0px;background:#ffffff;border-radius:1px 1px 0 0;border-bottom:1px solid #a9babd"></div>
<div class="a" style="left:438.8px;top:527.5px;width:6.7px;height:20.5px;background:#dfe8eb;border:1px solid #b3c3c6;border-radius:2px"></div>
<div class="a" style="left:439.8px;top:528.5px;width:4.7px;height:5.0px;background:#ffffff;border-radius:1px 1px 0 0;border-bottom:1px solid #a9babd"></div>
<div class="a" style="left:446.7px;top:527.5px;width:6.3px;height:20.5px;background:#dfe8eb;border:1px solid #b3c3c6;border-radius:2px"></div>
<div class="a" style="left:447.7px;top:528.5px;width:4.3px;height:5.0px;background:#ffffff;border-radius:1px 1px 0 0;border-bottom:1px solid #a9babd"></div>
<div class="a" style="left:454.2px;top:527.5px;width:6.8px;height:20.5px;background:#dfe8eb;border:1px solid #b3c3c6;border-radius:2px"></div>
<div class="a" style="left:455.2px;top:528.5px;width:4.8px;height:5.0px;background:#ffffff;border-radius:1px 1px 0 0;border-bottom:1px solid #a9babd"></div>
<div class="a" style="left:461.9px;top:527.5px;width:6.9px;height:20.5px;background:#dfe8eb;border:1px solid #b3c3c6;border-radius:2px"></div>
<div class="a" style="left:462.9px;top:528.5px;width:4.9px;height:5.0px;background:#ffffff;border-radius:1px 1px 0 0;border-bottom:1px solid #a9babd"></div>
<div class="a" style="left:469.5px;top:534.0px;width:1.5px;height:8.0px;background:#3a3a3a"></div>
<div class="a" style="left:471.6px;top:527.5px;width:6.4px;height:20.5px;background:#dfe8eb;border:1px solid #b3c3c6;border-radius:2px"></div>
<div class="a" style="left:472.6px;top:528.5px;width:4.4px;height:5.0px;background:#e891c0;border-radius:1px 1px 0 0;border-bottom:1px solid #a9babd"></div>
<div class="a" style="left:478.9px;top:527.5px;width:7.1px;height:20.5px;background:#dfe8eb;border:1px solid #b3c3c6;border-radius:2px"></div>
<div class="a" style="left:479.9px;top:528.5px;width:5.1px;height:5.0px;background:#e891c0;border-radius:1px 1px 0 0;border-bottom:1px solid #a9babd"></div>
<div class="a" style="left:487.0px;top:527.5px;width:35.8px;height:20.5px;background:#dfe8eb;border:1px solid #b3c3c6;border-radius:2px"></div>
<div class="a" style="left:488.0px;top:528.5px;width:33.8px;height:5.0px;background:#e891c0;border-radius:1px 1px 0 0;border-bottom:1px solid #a9babd"></div>
<div class="a" style="left:490.0px;top:532.0px;width:31.2px;height:12.0px;background:#acaba9"></div>
<div class="a" style="left:524.0px;top:527.5px;width:6.8px;height:20.5px;background:#dfe8eb;border:1px solid #b3c3c6;border-radius:2px"></div>
<div class="a" style="left:525.0px;top:528.5px;width:4.8px;height:5.0px;background:#e891c0;border-radius:1px 1px 0 0;border-bottom:1px solid #a9babd"></div>
<div class="a" style="left:531.8px;top:527.5px;width:7.2px;height:20.5px;background:#dfe8eb;border:1px solid #b3c3c6;border-radius:2px"></div>
<div class="a" style="left:532.8px;top:528.5px;width:5.2px;height:5.0px;background:#e891c0;border-radius:1px 1px 0 0;border-bottom:1px solid #a9babd"></div>
<div class="a" style="left:540.0px;top:527.5px;width:6.0px;height:20.5px;background:#e2841b;border-radius:3px"></div>
<div class="a" style="left:540.0px;top:527.5px;width:6.0px;height:6.0px;background:#e891c0;border-radius:3px 3px 0 0"></div>
<div class="a" style="left:548.0px;top:527.5px;width:6.3px;height:20.5px;background:#dfe8eb;border:1px solid #b3c3c6;border-radius:2px"></div>
<div class="a" style="left:549.0px;top:528.5px;width:4.3px;height:5.0px;background:#e891c0;border-radius:1px 1px 0 0;border-bottom:1px solid #a9babd"></div>
<div class="a" style="left:555.0px;top:527.5px;width:7.0px;height:20.5px;background:#dfe8eb;border:1px solid #b3c3c6;border-radius:2px"></div>
<div class="a" style="left:556.0px;top:528.5px;width:5.0px;height:5.0px;background:#e891c0;border-radius:1px 1px 0 0;border-bottom:1px solid #a9babd"></div>
<div class="a" style="left:563.0px;top:527.5px;width:6.5px;height:20.5px;background:#dfe8eb;border:1px solid #b3c3c6;border-radius:2px"></div>
<div class="a" style="left:564.0px;top:528.5px;width:4.5px;height:5.0px;background:#e891c0;border-radius:1px 1px 0 0;border-bottom:1px solid #a9babd"></div>
<div class="a" style="left:570.5px;top:527.5px;width:6.5px;height:20.5px;background:#dfe8eb;border:1px solid #b3c3c6;border-radius:2px"></div>
<div class="a" style="left:571.5px;top:528.5px;width:4.5px;height:5.0px;background:#e891c0;border-radius:1px 1px 0 0;border-bottom:1px solid #a9babd"></div>
<div class="a" style="left:578.0px;top:534.0px;width:1.5px;height:8.0px;background:#3a3a3a"></div>
<div class="a" style="left:580.0px;top:527.5px;width:36.6px;height:20.5px;background:#e2841b;border-radius:3px"></div>
<div class="a" style="left:580.0px;top:527.5px;width:36.6px;height:6.0px;background:#2fbcb3;border-radius:3px 3px 0 0"></div>
<div class="a" style="left:580.0px;top:533.0px;width:30.0px;height:11.0px;background:#acaba9"></div>
<div class="a" style="left:618.0px;top:527.5px;width:6.5px;height:20.5px;background:#e2841b;border-radius:3px"></div>
<div class="a" style="left:618.0px;top:527.5px;width:6.5px;height:6.0px;background:#2fbcb3;border-radius:3px 3px 0 0"></div>
<div class="a" style="left:626.0px;top:527.5px;width:6.0px;height:20.5px;background:#dfe8eb;border:1px solid #b3c3c6;border-radius:2px"></div>
<div class="a" style="left:627.0px;top:528.5px;width:4.0px;height:5.0px;background:#2fbcb3;border-radius:1px 1px 0 0;border-bottom:1px solid #a9babd"></div>
<div class="a" style="left:633.4px;top:527.5px;width:6.9px;height:20.5px;background:#dfe8eb;border:1px solid #b3c3c6;border-radius:2px"></div>
<div class="a" style="left:634.4px;top:528.5px;width:4.9px;height:5.0px;background:#2fbcb3;border-radius:1px 1px 0 0;border-bottom:1px solid #a9babd"></div>
<div class="a" style="left:640.8px;top:527.5px;width:6.6px;height:20.5px;background:#dfe8eb;border:1px solid #b3c3c6;border-radius:2px"></div>
<div class="a" style="left:641.8px;top:528.5px;width:4.6px;height:5.0px;background:#2fbcb3;border-radius:1px 1px 0 0;border-bottom:1px solid #a9babd"></div>
<div class="a" style="left:648.7px;top:527.5px;width:6.0px;height:20.5px;background:#e2841b;border-radius:3px"></div>
<div class="a" style="left:648.7px;top:527.5px;width:6.0px;height:6.0px;background:#2fbcb3;border-radius:3px 3px 0 0"></div>
<div class="a" style="left:655.7px;top:527.5px;width:6.3px;height:20.5px;background:#e2841b;border-radius:3px"></div>
<div class="a" style="left:655.7px;top:527.5px;width:6.3px;height:6.0px;background:#2fbcb3;border-radius:3px 3px 0 0"></div>
<div class="a" style="left:663.0px;top:527.5px;width:7.0px;height:20.5px;background:#e2841b;border-radius:3px"></div>
<div class="a" style="left:663.0px;top:527.5px;width:7.0px;height:6.0px;background:#2fbcb3;border-radius:3px 3px 0 0"></div>
<div class="a" style="left:670.0px;top:527.5px;width:31.0px;height:20.5px;background:#e2841b;border-radius:3px"></div>
<div class="a" style="left:670.0px;top:527.5px;width:31.0px;height:6.0px;background:#2fbcb3;border-radius:3px 3px 0 0"></div>
<div class="a" style="left:670.0px;top:533.0px;width:30.7px;height:11.0px;background:#acaba9"></div>
<div class="a" style="left:701.7px;top:527.5px;width:6.3px;height:20.5px;background:#dfe8eb;border:1px solid #b3c3c6;border-radius:2px"></div>
<div class="a" style="left:702.7px;top:528.5px;width:4.3px;height:5.0px;background:#2fbcb3;border-radius:1px 1px 0 0;border-bottom:1px solid #a9babd"></div>
<div class="a" style="left:709.0px;top:527.5px;width:7.5px;height:20.5px;background:#dfe8eb;border:1px solid #b3c3c6;border-radius:2px"></div>
<div class="a" style="left:710.0px;top:528.5px;width:5.5px;height:5.0px;background:#2fbcb3;border-radius:1px 1px 0 0;border-bottom:1px solid #a9babd"></div>
<div class="a" style="left:716.6px;top:534.0px;width:1.4px;height:8.0px;background:#3a3a3a"></div>
<div class="a" style="left:718.5px;top:527.5px;width:7.7px;height:20.5px;background:#e2841b;border-radius:3px"></div>
<div class="a" style="left:718.5px;top:527.5px;width:7.7px;height:6.0px;background:#2a2a2a;border-radius:3px 3px 0 0"></div>
<div class="a" style="left:726.6px;top:527.5px;width:7.2px;height:20.5px;background:#e2841b;border-radius:3px"></div>
<div class="a" style="left:726.6px;top:527.5px;width:7.2px;height:6.0px;background:#2a2a2a;border-radius:3px 3px 0 0"></div>
<div class="a" style="left:734.5px;top:534.0px;width:2.0px;height:8.0px;background:#3a3a3a"></div>
<div class="a" style="left:737.8px;top:527.5px;width:7.4px;height:20.5px;background:#dfe8eb;border:1px solid #b3c3c6;border-radius:2px"></div>
<div class="a" style="left:738.8px;top:528.5px;width:5.4px;height:5.0px;background:#ffffff;border-radius:1px 1px 0 0;border-bottom:1px solid #a9babd"></div>
<div class="a" style="left:745.7px;top:527.5px;width:6.9px;height:20.5px;background:#dfe8eb;border:1px solid #b3c3c6;border-radius:2px"></div>
<div class="a" style="left:746.7px;top:528.5px;width:4.9px;height:5.0px;background:#ffffff;border-radius:1px 1px 0 0;border-bottom:1px solid #a9babd"></div>
<div class="a" style="left:753.0px;top:527.5px;width:7.0px;height:20.5px;background:#dfe8eb;border:1px solid #b3c3c6;border-radius:2px"></div>
<div class="a" style="left:754.0px;top:528.5px;width:5.0px;height:5.0px;background:#ffffff;border-radius:1px 1px 0 0;border-bottom:1px solid #a9babd"></div>
<div class="a" style="left:760.8px;top:531.5px;width:29.2px;height:13.0px;background:#acaba9"></div>
<div class="a" style="left:790.6px;top:527.5px;width:6.9px;height:20.5px;background:#dfe8eb;border:1px solid #b3c3c6;border-radius:2px"></div>
<div class="a" style="left:791.6px;top:528.5px;width:4.9px;height:5.0px;background:#ffffff;border-radius:1px 1px 0 0;border-bottom:1px solid #a9babd"></div>
<div class="a" style="left:798.6px;top:527.5px;width:6.4px;height:20.5px;background:#dfe8eb;border:1px solid #b3c3c6;border-radius:2px"></div>
<div class="a" style="left:799.6px;top:528.5px;width:4.4px;height:5.0px;background:#ffffff;border-radius:1px 1px 0 0;border-bottom:1px solid #a9babd"></div>
<div class="a" style="left:806.0px;top:527.5px;width:11.2px;height:20.5px;background:#dfe8eb;border:1px solid #b3c3c6;border-radius:2px"></div>
<div class="a" style="left:807.0px;top:528.5px;width:9.2px;height:5.0px;background:#ffffff;border-radius:1px 1px 0 0;border-bottom:1px solid #a9babd"></div>
<div class="a" style="left:818.3px;top:527.5px;width:10.7px;height:20.5px;background:#dfe8eb;border:1px solid #b3c3c6;border-radius:2px"></div>
<div class="a" style="left:819.3px;top:528.5px;width:8.7px;height:5.0px;background:#ffffff;border-radius:1px 1px 0 0;border-bottom:1px solid #a9babd"></div>
<div class="a" style="left:830.0px;top:527.5px;width:11.2px;height:20.5px;background:#dfe8eb;border:1px solid #b3c3c6;border-radius:2px"></div>
<div class="a" style="left:831.0px;top:528.5px;width:9.2px;height:5.0px;background:#ffffff;border-radius:1px 1px 0 0;border-bottom:1px solid #a9babd"></div>
<div class="a" style="left:841.7px;top:527.5px;width:220.3px;height:20.5px;background:#dfe8eb;border:1px solid #b3c3c6;border-radius:2px"></div>
<div class="a" style="left:842.7px;top:528.5px;width:218.3px;height:5.0px;background:#ffffff;border-radius:1px 1px 0 0;border-bottom:1px solid #a9babd"></div>
<div class="a" style="left:850.0px;top:532.0px;width:211.0px;height:12.0px;background:#acaba9"></div>
<div class="a" style="left:1063.0px;top:527.5px;width:11.5px;height:20.5px;background:#dfe8eb;border:1px solid #b3c3c6;border-radius:2px"></div>
<div class="a" style="left:1064.0px;top:528.5px;width:9.5px;height:5.0px;background:#ffffff;border-radius:1px 1px 0 0;border-bottom:1px solid #a9babd"></div>
<div class="a" style="left:1076.7px;top:527.5px;width:11.3px;height:20.5px;background:#dfe8eb;border:1px solid #b3c3c6;border-radius:2px"></div>
<div class="a" style="left:1077.7px;top:528.5px;width:9.3px;height:5.0px;background:#e891c0;border-radius:1px 1px 0 0;border-bottom:1px solid #a9babd"></div>
<div class="a" style="left:1089.0px;top:527.5px;width:11.0px;height:20.5px;background:#dfe8eb;border:1px solid #b3c3c6;border-radius:2px"></div>
<div class="a" style="left:1090.0px;top:528.5px;width:9.0px;height:5.0px;background:#e891c0;border-radius:1px 1px 0 0;border-bottom:1px solid #a9babd"></div>
<div class="a" style="left:1100.6px;top:527.5px;width:10.9px;height:20.5px;background:#dfe8eb;border:1px solid #b3c3c6;border-radius:2px"></div>
<div class="a" style="left:1101.6px;top:528.5px;width:8.9px;height:5.0px;background:#e891c0;border-radius:1px 1px 0 0;border-bottom:1px solid #a9babd"></div>
<div class="a" style="left:1112.5px;top:527.5px;width:40.5px;height:20.5px;background:#dfe8eb;border:1px solid #b3c3c6;border-radius:2px"></div>
<div class="a" style="left:1113.5px;top:528.5px;width:38.5px;height:5.0px;background:#e891c0;border-radius:1px 1px 0 0;border-bottom:1px solid #a9babd"></div>
<div class="a" style="left:1120.0px;top:532.0px;width:30.0px;height:12.0px;background:#acaba9"></div>
<div class="a" style="left:1154.0px;top:527.5px;width:10.6px;height:20.5px;background:#dfe8eb;border:1px solid #b3c3c6;border-radius:2px"></div>
<div class="a" style="left:1155.0px;top:528.5px;width:8.6px;height:5.0px;background:#e891c0;border-radius:1px 1px 0 0;border-bottom:1px solid #a9babd"></div>
<div class="a" style="left:1167.7px;top:527.5px;width:6.3px;height:20.5px;background:#e2841b;border-radius:3px"></div>
<div class="a" style="left:1167.7px;top:527.5px;width:6.3px;height:6.0px;background:#2fbcb3;border-radius:3px 3px 0 0"></div>
<div class="a" style="left:1175.0px;top:527.5px;width:7.0px;height:20.5px;background:#dfe8eb;border:1px solid #b3c3c6;border-radius:2px"></div>
<div class="a" style="left:1176.0px;top:528.5px;width:5.0px;height:5.0px;background:#2fbcb3;border-radius:1px 1px 0 0;border-bottom:1px solid #a9babd"></div>
<div class="a" style="left:1183.0px;top:527.5px;width:7.0px;height:20.5px;background:#dfe8eb;border:1px solid #b3c3c6;border-radius:2px"></div>
<div class="a" style="left:1184.0px;top:528.5px;width:5.0px;height:5.0px;background:#2fbcb3;border-radius:1px 1px 0 0;border-bottom:1px solid #a9babd"></div>
<div class="a" style="left:1191.0px;top:527.5px;width:7.0px;height:20.5px;background:#dfe8eb;border:1px solid #b3c3c6;border-radius:2px"></div>
<div class="a" style="left:1192.0px;top:528.5px;width:5.0px;height:5.0px;background:#2fbcb3;border-radius:1px 1px 0 0;border-bottom:1px solid #a9babd"></div>
<div class="a" style="left:1198.5px;top:527.5px;width:6.9px;height:20.5px;background:#dfe8eb;border:1px solid #b3c3c6;border-radius:2px"></div>
<div class="a" style="left:1199.5px;top:528.5px;width:4.9px;height:5.0px;background:#2fbcb3;border-radius:1px 1px 0 0;border-bottom:1px solid #a9babd"></div>
<div class="a" style="left:1209.0px;top:531.5px;width:31.0px;height:13.0px;background:#acaba9"></div>
<div class="a" style="left:1299.0px;top:531.5px;width:31.0px;height:13.0px;background:#acaba9"></div>
<div class="a" style="left:1389.0px;top:531.5px;width:31.0px;height:13.0px;background:#acaba9"></div>
<div class="a" style="left:1479.0px;top:531.5px;width:181.0px;height:13.0px;background:#acaba9"></div>
<div class="a" style="left:1660.0px;top:527.5px;width:6.0px;height:20.5px;background:#e2841b;border-radius:2px"></div>
<div class="a" style="left:1660.0px;top:527.5px;width:6.0px;height:5.0px;background:#2a2a2a;border-radius:2px 2px 0 0"></div>
<div class="a" style="left:1667.0px;top:527.5px;width:7.0px;height:20.5px;background:#e2841b;border-radius:2px"></div>
<div class="a" style="left:1667.0px;top:527.5px;width:7.0px;height:5.0px;background:#2a2a2a;border-radius:2px 2px 0 0"></div>
<div class="a" style="left:1675.0px;top:527.5px;width:7.0px;height:20.5px;background:#e2841b;border-radius:2px"></div>
<div class="a" style="left:1675.0px;top:527.5px;width:7.0px;height:5.0px;background:#2a2a2a;border-radius:2px 2px 0 0"></div>
<div class="a" style="left:1683.0px;top:527.5px;width:6.0px;height:20.5px;background:#e2841b;border-radius:2px"></div>
<div class="a" style="left:1683.0px;top:527.5px;width:6.0px;height:5.0px;background:#2a2a2a;border-radius:2px 2px 0 0"></div>
<div class="a" style="left:1690.0px;top:527.5px;width:7.0px;height:20.5px;background:#e2841b;border-radius:2px"></div>
<div class="a" style="left:1690.0px;top:527.5px;width:7.0px;height:5.0px;background:#2a2a2a;border-radius:2px 2px 0 0"></div>
<div class="a" style="left:1698.0px;top:527.5px;width:7.0px;height:20.5px;background:#e2841b;border-radius:2px"></div>
<div class="a" style="left:1698.0px;top:527.5px;width:7.0px;height:5.0px;background:#2a2a2a;border-radius:2px 2px 0 0"></div>
<div class="a" style="left:1706.0px;top:527.5px;width:7.0px;height:20.5px;background:#e2841b;border-radius:2px"></div>
<div class="a" style="left:1706.0px;top:527.5px;width:7.0px;height:5.0px;background:#2a2a2a;border-radius:2px 2px 0 0"></div>
<div class="a" style="left:1714.0px;top:527.5px;width:6.0px;height:20.5px;background:#e2841b;border-radius:2px"></div>
<div class="a" style="left:1714.0px;top:527.5px;width:6.0px;height:5.0px;background:#2a2a2a;border-radius:2px 2px 0 0"></div>
<div class="a" style="left:1721.0px;top:527.5px;width:7.0px;height:20.5px;background:#e2841b;border-radius:2px"></div>
<div class="a" style="left:1721.0px;top:527.5px;width:7.0px;height:5.0px;background:#2a2a2a;border-radius:2px 2px 0 0"></div>
<div class="a" style="left:135.0px;top:571.5px;width:27.0px;height:13.0px;background:#acaba9"></div>
<div class="a" style="left:221.0px;top:571.5px;width:210.0px;height:13.0px;background:#acaba9"></div>
<div class="a" style="left:490.0px;top:571.5px;width:31.0px;height:13.0px;background:#acaba9"></div>
<div class="a" style="left:528.3px;top:567.5px;width:9.4px;height:20.5px;background:#dfe8eb;border:1px solid #b3c3c6;border-radius:2px"></div>
<div class="a" style="left:540.4px;top:567.5px;width:9.2px;height:20.5px;background:#dfe8eb;border:1px solid #b3c3c6;border-radius:2px"></div>
<div class="a" style="left:552.3px;top:567.5px;width:8.9px;height:20.5px;background:#dfe8eb;border:1px solid #b3c3c6;border-radius:2px"></div>
<div class="a" style="left:563.8px;top:567.5px;width:9.2px;height:20.5px;background:#dfe8eb;border:1px solid #b3c3c6;border-radius:2px"></div>
<div class="a" style="left:575.2px;top:567.5px;width:39.6px;height:20.5px;background:#dfe8eb;border:1px solid #b3c3c6;border-radius:2px"></div>
<div class="a" style="left:580.0px;top:572.0px;width:31.2px;height:12.0px;background:#acaba9"></div>
<div class="a" style="left:619.6px;top:567.5px;width:8.7px;height:20.5px;background:#dfe8eb;border:1px solid #b3c3c6;border-radius:2px"></div>
<div class="a" style="left:631.5px;top:567.5px;width:8.7px;height:20.5px;background:#dfe8eb;border:1px solid #b3c3c6;border-radius:2px"></div>
<div class="a" style="left:643.0px;top:567.5px;width:8.9px;height:20.5px;background:#dfe8eb;border:1px solid #b3c3c6;border-radius:2px"></div>
<div class="a" style="left:654.8px;top:567.5px;width:8.9px;height:20.5px;background:#dfe8eb;border:1px solid #b3c3c6;border-radius:2px"></div>
<div class="a" style="left:666.5px;top:567.5px;width:38.9px;height:20.5px;background:#dfe8eb;border:1px solid #b3c3c6;border-radius:2px"></div>
<div class="a" style="left:670.0px;top:572.0px;width:31.2px;height:12.0px;background:#acaba9"></div>
<div class="a" style="left:710.2px;top:567.5px;width:9.2px;height:20.5px;background:#dfe8eb;border:1px solid #b3c3c6;border-radius:2px"></div>
<div class="a" style="left:722.0px;top:567.5px;width:9.0px;height:20.5px;background:#dfe8eb;border:1px solid #b3c3c6;border-radius:2px"></div>
<div class="a" style="left:734.0px;top:567.5px;width:9.0px;height:20.5px;background:#dfe8eb;border:1px solid #b3c3c6;border-radius:2px"></div>
<div class="a" style="left:745.6px;top:567.5px;width:9.0px;height:20.5px;background:#dfe8eb;border:1px solid #b3c3c6;border-radius:2px"></div>
<div class="a" style="left:757.5px;top:567.5px;width:39.2px;height:20.5px;background:#dfe8eb;border:1px solid #b3c3c6;border-radius:2px"></div>
<div class="a" style="left:760.6px;top:572.0px;width:30.2px;height:12.0px;background:#acaba9"></div>
<div class="a" style="left:835.0px;top:567.5px;width:9.0px;height:20.5px;background:#dfe8eb;border:1px solid #b3c3c6;border-radius:2px"></div>
<div class="a" style="left:846.9px;top:567.5px;width:218.7px;height:20.5px;background:#dfe8eb;border:1px solid #b3c3c6;border-radius:2px"></div>
<div class="a" style="left:850.0px;top:572.0px;width:210.4px;height:12.0px;background:#acaba9"></div>
<div class="a" style="left:1068.7px;top:567.5px;width:8.8px;height:20.5px;background:#dfe8eb;border:1px solid #b3c3c6;border-radius:2px"></div>
<div class="a" style="left:1080.2px;top:567.5px;width:9.4px;height:20.5px;background:#dfe8eb;border:1px solid #b3c3c6;border-radius:2px"></div>
<div class="a" style="left:1092.0px;top:567.5px;width:9.5px;height:20.5px;background:#dfe8eb;border:1px solid #b3c3c6;border-radius:2px"></div>
<div class="a" style="left:1105.2px;top:567.5px;width:9.4px;height:20.5px;background:#dfe8eb;border:1px solid #b3c3c6;border-radius:2px"></div>
<div class="a" style="left:1117.7px;top:567.5px;width:38.3px;height:20.5px;background:#dfe8eb;border:1px solid #b3c3c6;border-radius:2px"></div>
<div class="a" style="left:1119.8px;top:572.0px;width:30.2px;height:12.0px;background:#acaba9"></div>
<div class="a" style="left:1159.8px;top:567.5px;width:8.5px;height:20.5px;background:#dfe8eb;border:1px solid #b3c3c6;border-radius:2px"></div>
<div class="a" style="left:1170.8px;top:567.5px;width:9.4px;height:20.5px;background:#dfe8eb;border:1px solid #b3c3c6;border-radius:2px"></div>
<div class="a" style="left:1183.0px;top:567.5px;width:8.7px;height:20.5px;background:#dfe8eb;border:1px solid #b3c3c6;border-radius:2px"></div>
<div class="a" style="left:1199.8px;top:567.5px;width:9.2px;height:20.5px;background:#dfe8eb;border:1px solid #b3c3c6;border-radius:2px"></div>
<div class="a" style="left:1209.0px;top:571.5px;width:31.4px;height:13.0px;background:#acaba9"></div>
<div class="a" style="left:1241.5px;top:567.5px;width:9.3px;height:20.5px;background:#dfe8eb;border:1px solid #b3c3c6;border-radius:2px"></div>
<div class="a" style="left:1253.0px;top:567.5px;width:9.3px;height:20.5px;background:#dfe8eb;border:1px solid #b3c3c6;border-radius:2px"></div>
<div class="a" style="left:1265.0px;top:567.5px;width:9.4px;height:20.5px;background:#dfe8eb;border:1px solid #b3c3c6;border-radius:2px"></div>
<div class="a" style="left:1276.9px;top:567.5px;width:9.8px;height:20.5px;background:#dfe8eb;border:1px solid #b3c3c6;border-radius:2px"></div>
<div class="a" style="left:1299.0px;top:571.5px;width:31.0px;height:13.0px;background:#acaba9"></div>
<div class="a" style="left:1389.0px;top:571.5px;width:31.0px;height:13.0px;background:#acaba9"></div>
<div class="a" style="left:1479.0px;top:571.5px;width:181.0px;height:13.0px;background:#acaba9"></div>
<div class="a" style="left:1757.8px;top:567.5px;width:9.0px;height:20.5px;background:#e2841b;border-radius:3px"></div>
<div class="a" style="left:1769.5px;top:567.5px;width:9.0px;height:20.5px;background:#e2841b;border-radius:3px"></div>
<div class="a" style="left:1781.1px;top:567.5px;width:9.0px;height:20.5px;background:#e2841b;border-radius:3px"></div>
<div class="a" style="left:1792.8px;top:567.5px;width:9.0px;height:20.5px;background:#e2841b;border-radius:3px"></div>
<div class="a" style="left:1804.4px;top:567.5px;width:9.0px;height:20.5px;background:#e2841b;border-radius:3px"></div>
<div class="a" style="left:1816.0px;top:567.5px;width:9.0px;height:20.5px;background:#e2841b;border-radius:3px"></div>
<div class="a" style="left:1827.7px;top:567.5px;width:9.0px;height:20.5px;background:#e2841b;border-radius:3px"></div>
<div class="a" style="left:135.0px;top:611.5px;width:27.0px;height:13.0px;background:#acaba9"></div>
<div class="a" style="left:221.0px;top:611.5px;width:210.0px;height:13.0px;background:#acaba9"></div>
<div class="a" style="left:430.4px;top:605.5px;width:330.2px;height:25.0px;background:#e3f67b;border:1px solid #b4bd78;border-right:none"></div>
<div class="a" style="left:790.3px;top:605.5px;width:414.7px;height:25.0px;background:#e3f67b;border:1px solid #b4bd78;border-left:none"></div>
<div class="a" style="left:468.8px;top:605.5px;width:2.0px;height:25.0px;background:#a3aa82"></div>
<div class="a" style="left:558.0px;top:605.5px;width:2.0px;height:25.0px;background:#a3aa82"></div>
<div class="a" style="left:577.3px;top:605.5px;width:2.0px;height:25.0px;background:#a3aa82"></div>
<div class="a" style="left:648.7px;top:605.5px;width:2.0px;height:25.0px;background:#a3aa82"></div>
<div class="a" style="left:716.4px;top:605.5px;width:2.0px;height:25.0px;background:#a3aa82"></div>
<div class="a" style="left:810.5px;top:605.5px;width:2.0px;height:25.0px;background:#a3aa82"></div>
<div class="a" style="left:1074.0px;top:605.5px;width:2.0px;height:25.0px;background:#a3aa82"></div>
<div class="a" style="left:1099.6px;top:605.5px;width:2.0px;height:25.0px;background:#a3aa82"></div>
<div class="a" style="left:1165.0px;top:605.5px;width:2.0px;height:25.0px;background:#a3aa82"></div>
<div class="a" style="left:733.5px;top:606.0px;width:4.2px;height:24.0px;background:#74de74"></div>
<div class="a" style="left:739.3px;top:606.0px;width:4.7px;height:24.0px;background:#74de74"></div>
<div class="a" style="left:733.2px;top:606.0px;width:1.0px;height:24.0px;background:#8cb07a"></div>
<div class="a" style="left:737.5px;top:606.0px;width:1.0px;height:24.0px;background:#8cb07a"></div>
<div class="a" style="left:739.0px;top:606.0px;width:1.0px;height:24.0px;background:#8cb07a"></div>
<div class="a" style="left:743.5px;top:606.0px;width:1.0px;height:24.0px;background:#8cb07a"></div>
<div class="a" style="left:490.3px;top:612.0px;width:30.5px;height:12.0px;background:#acaba9"></div>
<div class="a" style="left:579.4px;top:612.0px;width:31.2px;height:12.0px;background:#acaba9"></div>
<div class="a" style="left:670.0px;top:612.0px;width:30.7px;height:12.0px;background:#acaba9"></div>
<div class="a" style="left:850.0px;top:612.0px;width:210.4px;height:12.0px;background:#acaba9"></div>
<div class="a" style="left:1119.8px;top:612.0px;width:30.2px;height:12.0px;background:#acaba9"></div>
<div class="a" style="left:760.6px;top:603.0px;width:29.7px;height:23.6px;background:#74de74;border:1px solid #8fb08a"></div>
<div class="a" style="left:761.5px;top:612.0px;width:28.0px;height:13.6px;background:#acaba9"></div>
<div class="a" style="left:1205.0px;top:605.5px;width:54.5px;height:25.0px;background:#74de74;border:1px solid #8fb08a"></div>
<div class="a" style="left:1210.0px;top:612.0px;width:30.4px;height:12.0px;background:#acaba9"></div>
<div class="a" style="left:1299.0px;top:611.5px;width:31.0px;height:13.0px;background:#acaba9"></div>
<div class="a" style="left:1389.0px;top:611.5px;width:31.0px;height:13.0px;background:#acaba9"></div>
<div class="a" style="left:1479.0px;top:611.5px;width:181.0px;height:13.0px;background:#acaba9"></div>
<div class="a" style="left:1660.0px;top:605.5px;width:68.0px;height:25.0px;background:#e3f67b"></div>
<div class="a" style="left:1728.0px;top:605.5px;width:110.5px;height:25.0px;background:#78e07a"></div>
<div class="a" style="left:135.0px;top:646.0px;width:1566.0px;height:3.0px;background:#9d9d9d;border-radius:1px"></div>
<div class="a" style="left:1849.5px;top:359.0px;width:2.0px;height:241.0px;background:#9d9d9d"></div>
<svg class="a" style="left:56px;top:672px" width="18" height="14" viewBox="0 0 18 14"><path d="M3 4 L9 9.8 L15 4" stroke="#1e1e1e" stroke-width="1.7" fill="none"/></svg>
<div class="a" style="left:82px;top:672px;font-size:16px;color:#2e2e2e;line-height:1">Details</div>
<div class="dd" style="left:56px;top:712px;width:240px;height:52px"><div class="l">View</div><div class="v">Resource utilization</div><div class="ar" style="left:208px"></div></div>
<div class="dd" style="left:304px;top:712px;width:400px;height:52px"><div class="l">Resource or Resource Group</div><div class="v">HIMM</div><div class="ar" style="left:368px"></div></div>
<div class="dd" style="left:712px;top:712px;width:320px;height:52px"><div class="l">View By</div><div class="v">Day</div><div class="ar" style="left:288px"></div></div>
<div class="a" style="left:56.0px;top:767.0px;width:1800.0px;height:1.0px;background:#e3e2e0"></div>
<div class="a" style="left:121.0px;top:968.0px;width:1615.0px;height:1.0px;background:#e6e5e3"></div>
<div class="a" style="left:121.0px;top:933.0px;width:1615.0px;height:1.0px;background:#e6e5e3"></div>
<div class="a" style="left:121.0px;top:898.0px;width:1615.0px;height:1.0px;background:#e6e5e3"></div>
<div class="a" style="left:121.0px;top:863.0px;width:1615.0px;height:1.0px;background:#e6e5e3"></div>
<div class="a" style="left:121.0px;top:793.0px;width:1615.0px;height:1.0px;background:#e6e5e3"></div>
<div class="a" style="left:121.0px;top:1002.5px;width:1615.0px;height:1.7px;background:#a2a2a2"></div>
<div class="a" style="left:121.0px;top:827.5px;width:1615.0px;height:1.7px;background:#a2a2a2"></div>
<div class="a" style="left:60px;width:50px;text-align:right;top:996.5px;font-size:13px;color:#979797;line-height:1">0</div>
<div class="a" style="left:60px;width:50px;text-align:right;top:961.5px;font-size:13px;color:#979797;line-height:1">20</div>
<div class="a" style="left:60px;width:50px;text-align:right;top:926.5px;font-size:13px;color:#979797;line-height:1">40</div>
<div class="a" style="left:60px;width:50px;text-align:right;top:891.5px;font-size:13px;color:#979797;line-height:1">60</div>
<div class="a" style="left:60px;width:50px;text-align:right;top:856.5px;font-size:13px;color:#979797;line-height:1">80</div>
<div class="a" style="left:60px;width:50px;text-align:right;top:821.5px;font-size:13px;color:#979797;line-height:1">100</div>
<div class="a" style="left:60px;width:50px;text-align:right;top:786.5px;font-size:13px;color:#979797;line-height:1">120</div>
<div class="a" style="left:42px;top:887px;width:62px;text-align:center;font-size:12px;color:#8a8a8a;line-height:1;transform:rotate(-90deg)">Percentage</div>
<div class="a" style="left:142.0px;top:950.5px;width:38.8px;height:52.5px;background:#5eb8b4"></div>
<div class="a" style="left:131.4px;width:60px;text-align:center;top:936.2px;font-size:12px;font-weight:bold;color:#1e1e1e;line-height:1">30</div>
<div class="a" style="left:121.4px;width:80px;text-align:center;top:1016px;font-size:13px;color:#858585;line-height:1;letter-spacing:0.7px">1/3/25</div>
<div class="a" style="left:222.7px;top:828.0px;width:38.8px;height:175.0px;background:#5eb8b4"></div>
<div class="a" style="left:212.1px;width:60px;text-align:center;top:813.7px;font-size:12px;font-weight:bold;color:#1e1e1e;line-height:1">100</div>
<div class="a" style="left:202.1px;width:80px;text-align:center;top:1016px;font-size:13px;color:#858585;line-height:1;letter-spacing:0.7px">1/4/25</div>
<div class="a" style="left:303.5px;top:828.0px;width:38.8px;height:175.0px;background:#5eb8b4"></div>
<div class="a" style="left:292.9px;width:60px;text-align:center;top:813.7px;font-size:12px;font-weight:bold;color:#1e1e1e;line-height:1">100</div>
<div class="a" style="left:282.9px;width:80px;text-align:center;top:1016px;font-size:13px;color:#858585;line-height:1;letter-spacing:0.7px">1/5/25</div>
<div class="a" style="left:384.2px;top:887.0px;width:38.8px;height:116.0px;background:#255c61"></div>
<div class="a" style="left:384.2px;top:828.0px;width:38.8px;height:59.0px;background:#5eb8b4;border-bottom:1px solid #fff"></div>
<div class="a" style="left:373.6px;width:60px;text-align:center;top:813.7px;font-size:12px;font-weight:bold;color:#1e1e1e;line-height:1">100</div>
<div class="a" style="left:363.6px;width:80px;text-align:center;top:1016px;font-size:13px;color:#858585;line-height:1;letter-spacing:0.7px">1/6/25</div>
<div class="a" style="left:465.0px;top:891.0px;width:38.8px;height:112.0px;background:#255c61"></div>
<div class="a" style="left:465.0px;top:887.0px;width:38.8px;height:4.0px;background:#e0831c;border-bottom:1px solid #fff"></div>
<div class="a" style="left:465.0px;top:828.0px;width:38.8px;height:59.0px;background:#5eb8b4;border-bottom:1px solid #fff"></div>
<div class="a" style="left:454.4px;width:60px;text-align:center;top:813.7px;font-size:12px;font-weight:bold;color:#1e1e1e;line-height:1">100</div>
<div class="a" style="left:444.4px;width:80px;text-align:center;top:1016px;font-size:13px;color:#858585;line-height:1;letter-spacing:0.7px">1/7/25</div>
<div class="a" style="left:545.7px;top:891.0px;width:38.8px;height:112.0px;background:#255c61"></div>
<div class="a" style="left:545.7px;top:886.1px;width:38.8px;height:4.9px;background:#e0831c;border-bottom:1px solid #fff"></div>
<div class="a" style="left:545.7px;top:828.0px;width:38.8px;height:58.1px;background:#5eb8b4;border-bottom:1px solid #fff"></div>
<div class="a" style="left:535.1px;width:60px;text-align:center;top:813.7px;font-size:12px;font-weight:bold;color:#1e1e1e;line-height:1">100</div>
<div class="a" style="left:525.1px;width:80px;text-align:center;top:1016px;font-size:13px;color:#858585;line-height:1;letter-spacing:0.7px">1/8/25</div>
<div class="a" style="left:626.5px;top:894.0px;width:38.8px;height:109.0px;background:#255c61"></div>
<div class="a" style="left:626.5px;top:887.0px;width:38.8px;height:7.0px;background:#e0831c;border-bottom:1px solid #fff"></div>
<div class="a" style="left:626.5px;top:828.0px;width:38.8px;height:59.0px;background:#5eb8b4;border-bottom:1px solid #fff"></div>
<div class="a" style="left:615.9px;width:60px;text-align:center;top:813.7px;font-size:12px;font-weight:bold;color:#1e1e1e;line-height:1">100</div>
<div class="a" style="left:605.9px;width:80px;text-align:center;top:1016px;font-size:13px;color:#858585;line-height:1;letter-spacing:0.7px">1/9/25</div>
<div class="a" style="left:707.2px;top:891.0px;width:38.8px;height:112.0px;background:#255c61"></div>
<div class="a" style="left:707.2px;top:886.5px;width:38.8px;height:4.5px;background:#e0831c;border-bottom:1px solid #fff"></div>
<div class="a" style="left:707.2px;top:828.0px;width:38.8px;height:58.5px;background:#5eb8b4;border-bottom:1px solid #fff"></div>
<div class="a" style="left:696.6px;width:60px;text-align:center;top:813.7px;font-size:12px;font-weight:bold;color:#1e1e1e;line-height:1">100</div>
<div class="a" style="left:686.6px;width:80px;text-align:center;top:1016px;font-size:13px;color:#858585;line-height:1;letter-spacing:0.7px">1/10/25</div>
<div class="a" style="left:788.0px;top:828.0px;width:38.8px;height:175.0px;background:#5eb8b4"></div>
<div class="a" style="left:777.4px;width:60px;text-align:center;top:813.7px;font-size:12px;font-weight:bold;color:#1e1e1e;line-height:1">100</div>
<div class="a" style="left:767.4px;width:80px;text-align:center;top:1016px;font-size:13px;color:#858585;line-height:1;letter-spacing:0.7px">1/11/25</div>
<div class="a" style="left:868.7px;top:828.0px;width:38.8px;height:175.0px;background:#5eb8b4"></div>
<div class="a" style="left:858.1px;width:60px;text-align:center;top:813.7px;font-size:12px;font-weight:bold;color:#1e1e1e;line-height:1">100</div>
<div class="a" style="left:848.1px;width:80px;text-align:center;top:1016px;font-size:13px;color:#858585;line-height:1;letter-spacing:0.7px">1/12/25</div>
<div class="a" style="left:949.5px;top:891.0px;width:38.8px;height:112.0px;background:#255c61"></div>
<div class="a" style="left:949.5px;top:886.5px;width:38.8px;height:4.5px;background:#e0831c;border-bottom:1px solid #fff"></div>
<div class="a" style="left:949.5px;top:828.0px;width:38.8px;height:58.5px;background:#5eb8b4;border-bottom:1px solid #fff"></div>
<div class="a" style="left:938.9px;width:60px;text-align:center;top:813.7px;font-size:12px;font-weight:bold;color:#1e1e1e;line-height:1">100</div>
<div class="a" style="left:928.9px;width:80px;text-align:center;top:1016px;font-size:13px;color:#858585;line-height:1;letter-spacing:0.7px">1/13/25</div>
<div class="a" style="left:1030.2px;top:887.0px;width:38.8px;height:116.0px;background:#255c61"></div>
<div class="a" style="left:1030.2px;top:828.0px;width:38.8px;height:59.0px;background:#5eb8b4;border-bottom:1px solid #fff"></div>
<div class="a" style="left:1019.6px;width:60px;text-align:center;top:813.7px;font-size:12px;font-weight:bold;color:#1e1e1e;line-height:1">100</div>
<div class="a" style="left:1009.6px;width:80px;text-align:center;top:1016px;font-size:13px;color:#858585;line-height:1;letter-spacing:0.7px">1/14/25</div>
<div class="a" style="left:1111.0px;top:965.4px;width:38.8px;height:37.6px;background:#255c61"></div>
<div class="a" style="left:1111.0px;top:906.8px;width:38.8px;height:58.6px;background:#5eb8b4;border-bottom:1px solid #fff"></div>
<div class="a" style="left:1100.4px;width:60px;text-align:center;top:892.5px;font-size:12px;font-weight:bold;color:#1e1e1e;line-height:1">55</div>
<div class="a" style="left:1090.4px;width:80px;text-align:center;top:1016px;font-size:13px;color:#858585;line-height:1;letter-spacing:0.7px">1/15/25</div>
<div class="a" style="left:1191.7px;top:945.2px;width:38.8px;height:57.8px;background:#5eb8b4"></div>
<div class="a" style="left:1181.1px;width:60px;text-align:center;top:931.0px;font-size:12px;font-weight:bold;color:#1e1e1e;line-height:1">33</div>
<div class="a" style="left:1171.1px;width:80px;text-align:center;top:1016px;font-size:13px;color:#858585;line-height:1;letter-spacing:0.7px">1/16/25</div>
<div class="a" style="left:1272.5px;top:945.2px;width:38.8px;height:57.8px;background:#5eb8b4"></div>
<div class="a" style="left:1261.9px;width:60px;text-align:center;top:931.0px;font-size:12px;font-weight:bold;color:#1e1e1e;line-height:1">33</div>
<div class="a" style="left:1251.9px;width:80px;text-align:center;top:1016px;font-size:13px;color:#858585;line-height:1;letter-spacing:0.7px">1/17/25</div>
<div class="a" style="left:1353.2px;top:828.0px;width:38.8px;height:175.0px;background:#5eb8b4"></div>
<div class="a" style="left:1342.6px;width:60px;text-align:center;top:813.7px;font-size:12px;font-weight:bold;color:#1e1e1e;line-height:1">100</div>
<div class="a" style="left:1332.6px;width:80px;text-align:center;top:1016px;font-size:13px;color:#858585;line-height:1;letter-spacing:0.7px">1/18/25</div>
<div class="a" style="left:1434.0px;top:828.0px;width:38.8px;height:175.0px;background:#5eb8b4"></div>
<div class="a" style="left:1423.4px;width:60px;text-align:center;top:813.7px;font-size:12px;font-weight:bold;color:#1e1e1e;line-height:1">100</div>
<div class="a" style="left:1413.4px;width:80px;text-align:center;top:1016px;font-size:13px;color:#858585;line-height:1;letter-spacing:0.7px">1/19/25</div>
<div class="a" style="left:1514.7px;top:828.0px;width:38.8px;height:175.0px;background:#255c61"></div>
<div class="a" style="left:1504.1px;width:60px;text-align:center;top:810.7px;font-size:12px;font-weight:bold;color:#1e1e1e;line-height:1">100</div>
<div class="a" style="left:1494.1px;width:80px;text-align:center;top:1016px;font-size:13px;color:#858585;line-height:1;letter-spacing:0.7px">1/20/25</div>
<div class="a" style="left:1595.5px;top:828.0px;width:38.8px;height:175.0px;background:#255c61"></div>
<div class="a" style="left:1584.9px;width:60px;text-align:center;top:810.7px;font-size:12px;font-weight:bold;color:#1e1e1e;line-height:1">100</div>
<div class="a" style="left:1574.9px;width:80px;text-align:center;top:1016px;font-size:13px;color:#858585;line-height:1;letter-spacing:0.7px">1/21/25</div>
<div class="a" style="left:1676.2px;top:982.0px;width:38.8px;height:21.0px;background:#255c61"></div>
<div class="a" style="left:1665.6px;width:60px;text-align:center;top:964.9px;font-size:12px;font-weight:bold;color:#1e1e1e;line-height:1">12</div>
<div class="a" style="left:1655.6px;width:80px;text-align:center;top:1016px;font-size:13px;color:#858585;line-height:1;letter-spacing:0.7px">1/22/25</div>
<div class="a" style="left:121.0px;top:1038.0px;width:1615.0px;height:3.0px;background:#a4a4a4;border-radius:1px"></div>
<div class="a" style="left:1754.0px;top:870.0px;width:10.0px;height:10.0px;background:#5eb8b4"></div>
<div class="a" style="left:1771px;top:869px;font-size:12px;color:#5a5a5a;line-height:1">Downtime</div>
<div class="a" style="left:1754.0px;top:890.0px;width:10.0px;height:10.0px;background:#e0831c"></div>
<div class="a" style="left:1771px;top:889px;font-size:12px;color:#5a5a5a;line-height:1">Changeovers</div>
<div class="a" style="left:1754.0px;top:910.0px;width:10.0px;height:10.0px;background:#255c61"></div>
<div class="a" style="left:1771px;top:909px;font-size:12px;color:#5a5a5a;line-height:1">Runtime</div>
</body></html>
